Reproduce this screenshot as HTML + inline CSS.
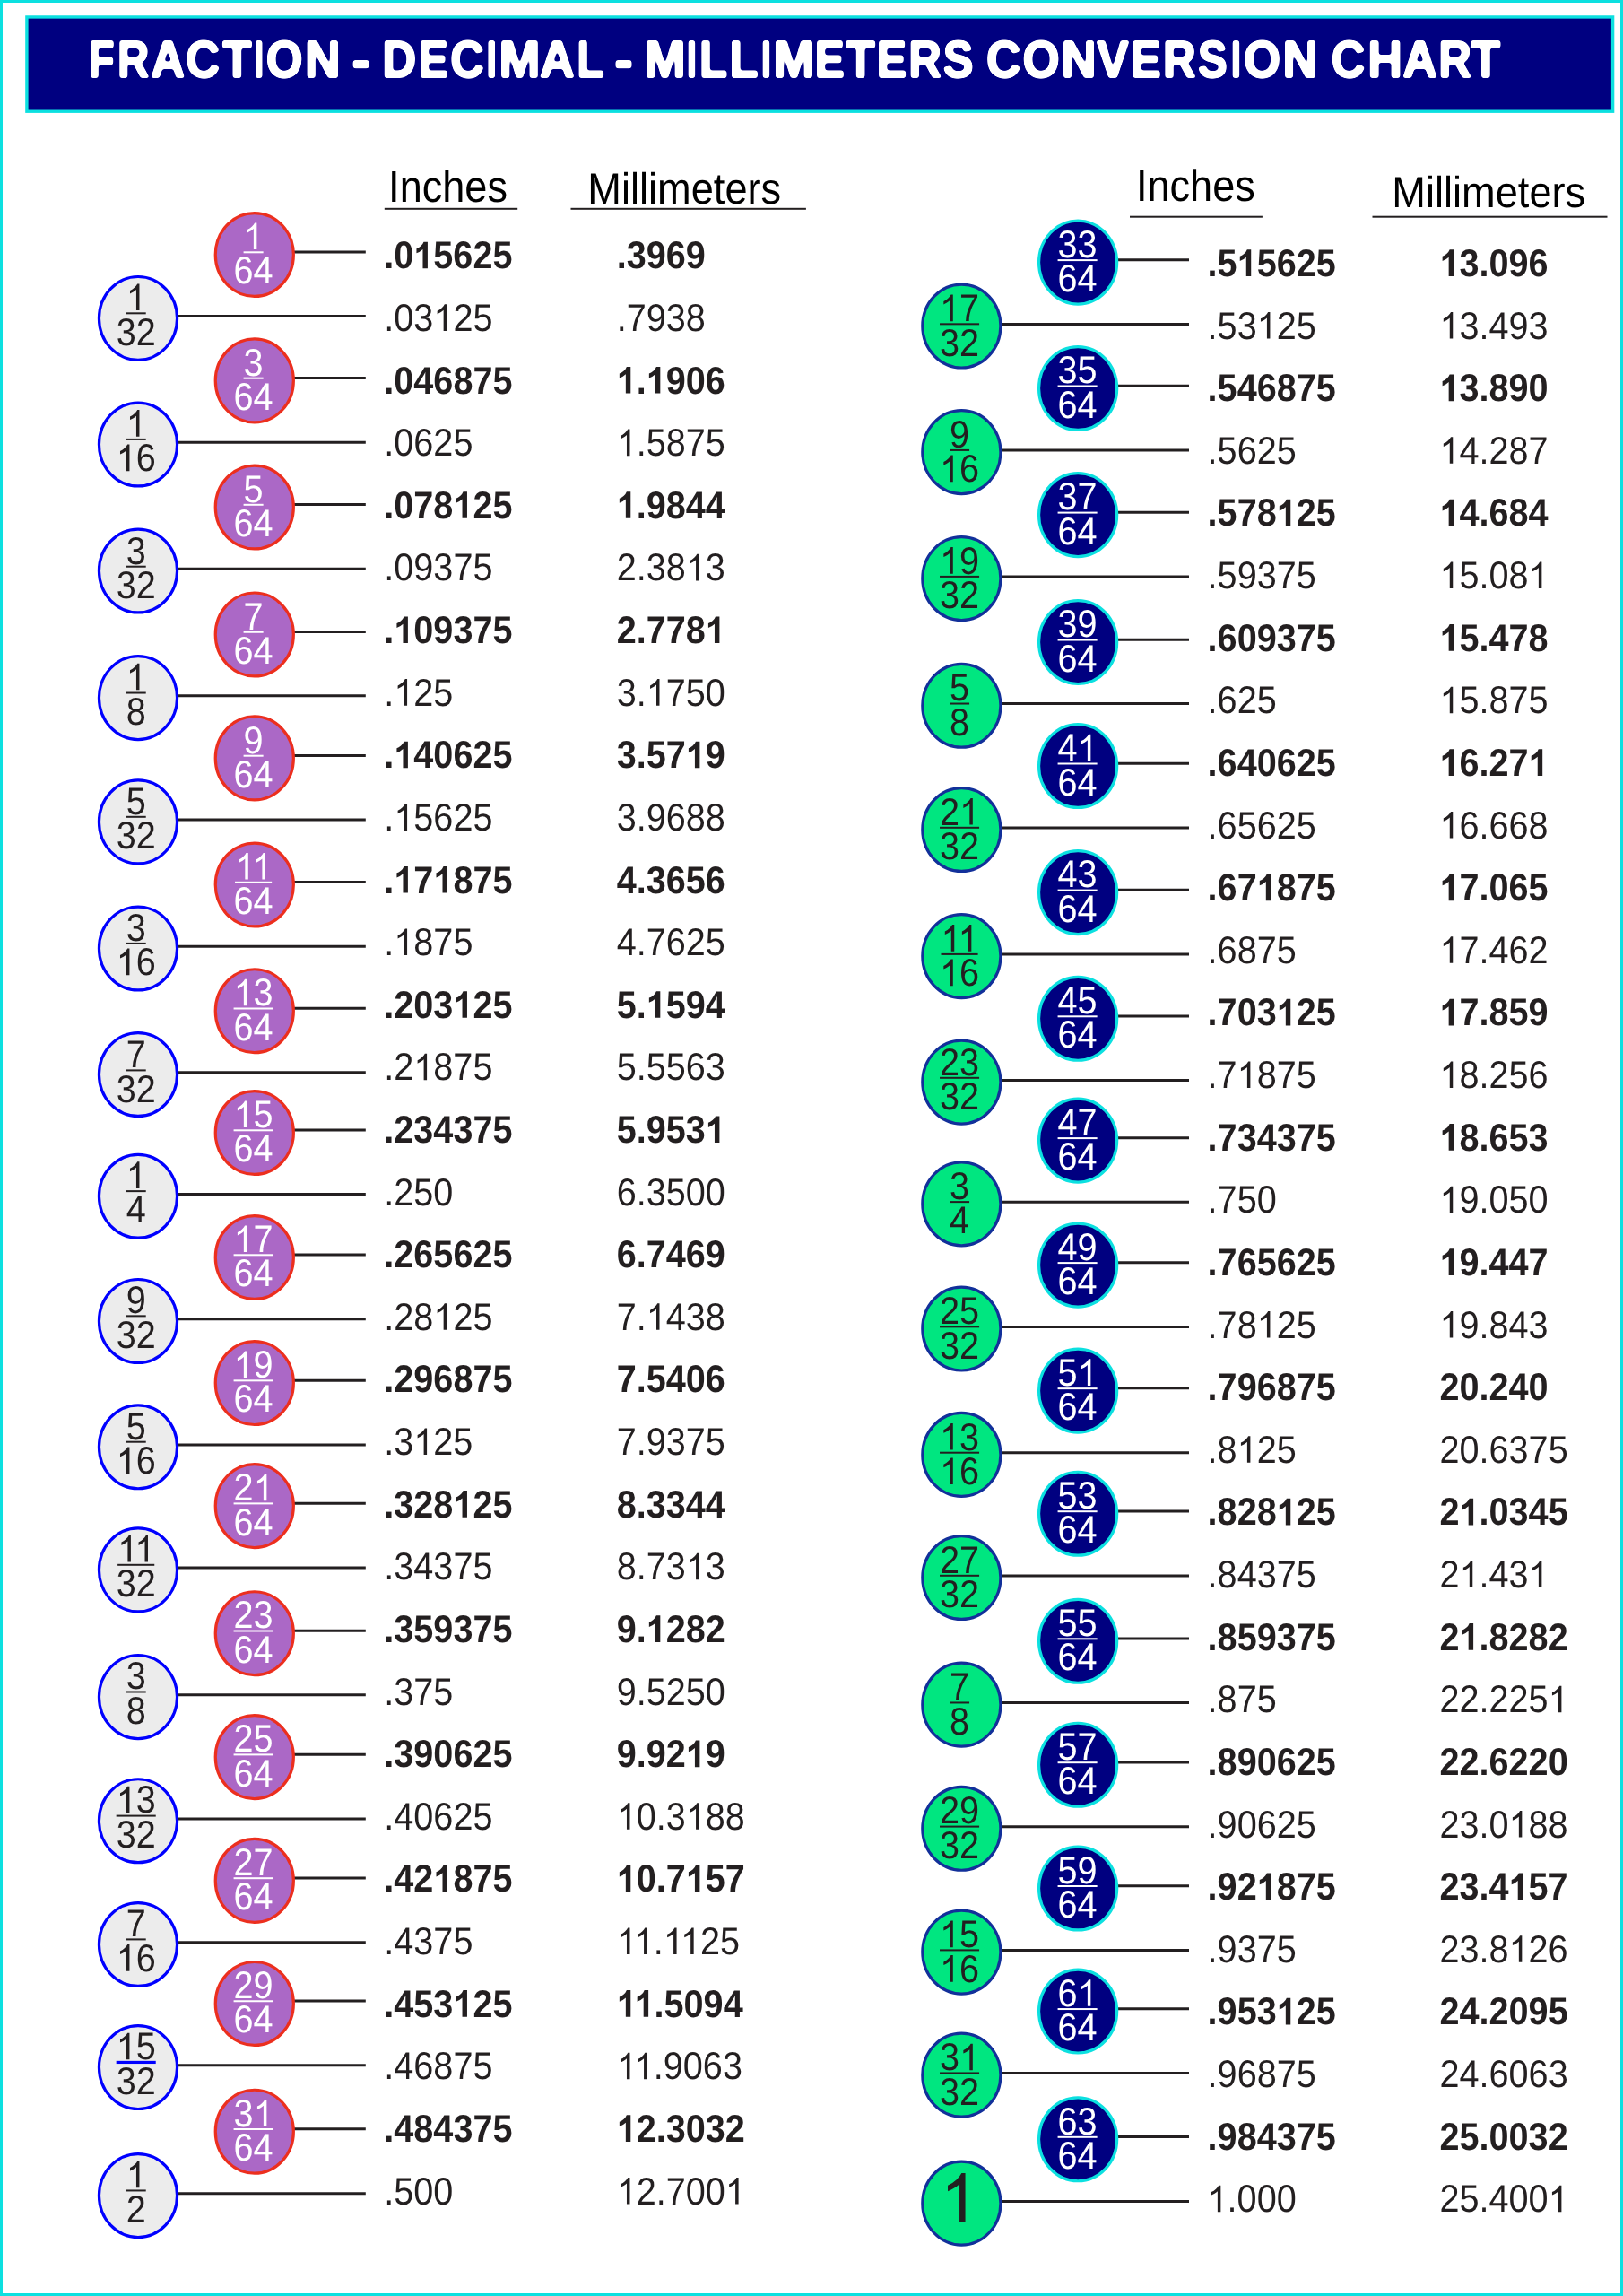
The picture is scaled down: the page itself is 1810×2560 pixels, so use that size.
<!DOCTYPE html>
<html><head><meta charset="utf-8"><title>Fraction - Decimal - Millimeters Conversion Chart</title>
<style>html,body{margin:0;padding:0;background:#fff}svg{display:block}svg{opacity:0.9999}text{font-family:"Liberation Sans",sans-serif;text-rendering:geometricPrecision}</style></head><body>
<svg width="1810" height="2560" viewBox="0 0 1810 2560">
<rect x="0" y="0" width="1810" height="2560" fill="#FFFFFF"/>
<rect x="1.5" y="1.5" width="1807" height="2557" fill="none" stroke="#0CE0E0" stroke-width="3"/>
<rect x="29.9" y="18.95" width="1768.7" height="105.25" fill="#000080" stroke="#0CE0E0" stroke-width="3.4"/>
<defs><filter id="rnd" x="0" y="0" width="1810" height="140" filterUnits="userSpaceOnUse"><feGaussianBlur stdDeviation="1.4"/><feComponentTransfer><feFuncA type="linear" slope="5" intercept="-2"/></feComponentTransfer></filter></defs>
<g filter="url(#rnd)" fill="#FFFFFF" stroke="#FFFFFF" stroke-width="2.2" stroke-linejoin="round" stroke-linecap="round" font-weight="bold" font-size="58.0">
<text transform="translate(99.07 86.0) scale(0.8054 1)" vector-effect="non-scaling-stroke">F</text>
<text transform="translate(130.92 86.0) scale(0.8447 1)" vector-effect="non-scaling-stroke">R</text>
<text transform="translate(168.19 86.0) scale(0.9046 1)" vector-effect="non-scaling-stroke">A</text>
<text transform="translate(207.25 86.0) scale(0.9045 1)" vector-effect="non-scaling-stroke">C</text>
<text transform="translate(248.21 86.0) scale(0.9106 1)" vector-effect="non-scaling-stroke">T</text>
<text transform="translate(283.06 86.0) scale(0.7062 1)" vector-effect="non-scaling-stroke">I</text>
<text transform="translate(296.75 86.0) scale(0.9057 1)" vector-effect="non-scaling-stroke">O</text>
<text transform="translate(340.02 86.0) scale(0.9473 1)" vector-effect="non-scaling-stroke">N</text>
<rect x="394.70" y="68.10" width="15.80" height="7.10"/>
<text transform="translate(426.19 86.0) scale(0.9052 1)" vector-effect="non-scaling-stroke">D</text>
<text transform="translate(466.87 86.0) scale(0.8574 1)" vector-effect="non-scaling-stroke">E</text>
<text transform="translate(502.17 86.0) scale(0.8966 1)" vector-effect="non-scaling-stroke">C</text>
<text transform="translate(542.61 86.0) scale(0.7182 1)" vector-effect="non-scaling-stroke">I</text>
<text transform="translate(556.52 86.0) scale(0.9493 1)" vector-effect="non-scaling-stroke">M</text>
<text transform="translate(601.96 86.0) scale(0.9252 1)" vector-effect="non-scaling-stroke">A</text>
<text transform="translate(643.16 86.0) scale(0.8601 1)" vector-effect="non-scaling-stroke">L</text>
<rect x="687.60" y="68.10" width="15.80" height="7.10"/>
<text transform="translate(718.46 86.0) scale(0.9518 1)" vector-effect="non-scaling-stroke">M</text>
<text transform="translate(765.86 86.0) scale(0.7062 1)" vector-effect="non-scaling-stroke">I</text>
<text transform="translate(780.00 86.0) scale(0.8769 1)" vector-effect="non-scaling-stroke">L</text>
<text transform="translate(813.59 86.0) scale(0.9038 1)" vector-effect="non-scaling-stroke">L</text>
<text transform="translate(848.86 86.0) scale(0.7062 1)" vector-effect="non-scaling-stroke">I</text>
<text transform="translate(862.18 86.0) scale(0.9592 1)" vector-effect="non-scaling-stroke">M</text>
<text transform="translate(908.69 86.0) scale(0.8543 1)" vector-effect="non-scaling-stroke">E</text>
<text transform="translate(943.41 86.0) scale(0.9106 1)" vector-effect="non-scaling-stroke">T</text>
<text transform="translate(977.65 86.0) scale(0.8636 1)" vector-effect="non-scaling-stroke">E</text>
<text transform="translate(1013.30 86.0) scale(0.8773 1)" vector-effect="non-scaling-stroke">R</text>
<text transform="translate(1051.74 86.0) scale(0.8720 1)" vector-effect="non-scaling-stroke">S</text>
<text transform="translate(1099.92 86.0) scale(0.9151 1)" vector-effect="non-scaling-stroke">C</text>
<text transform="translate(1140.53 86.0) scale(0.9132 1)" vector-effect="non-scaling-stroke">O</text>
<text transform="translate(1183.48 86.0) scale(0.9326 1)" vector-effect="non-scaling-stroke">N</text>
<text transform="translate(1223.24 86.0) scale(0.9157 1)" vector-effect="non-scaling-stroke">V</text>
<text transform="translate(1261.35 86.0) scale(0.8636 1)" vector-effect="non-scaling-stroke">E</text>
<text transform="translate(1297.00 86.0) scale(0.8773 1)" vector-effect="non-scaling-stroke">R</text>
<text transform="translate(1335.99 86.0) scale(0.8461 1)" vector-effect="non-scaling-stroke">S</text>
<text transform="translate(1372.86 86.0) scale(0.7062 1)" vector-effect="non-scaling-stroke">I</text>
<text transform="translate(1387.03 86.0) scale(0.9107 1)" vector-effect="non-scaling-stroke">O</text>
<text transform="translate(1430.57 86.0) scale(0.9355 1)" vector-effect="non-scaling-stroke">N</text>
<text transform="translate(1484.77 86.0) scale(0.8966 1)" vector-effect="non-scaling-stroke">C</text>
<text transform="translate(1525.22 86.0) scale(0.9238 1)" vector-effect="non-scaling-stroke">H</text>
<text transform="translate(1564.37 86.0) scale(0.9200 1)" vector-effect="non-scaling-stroke">A</text>
<text transform="translate(1604.20 86.0) scale(0.8773 1)" vector-effect="non-scaling-stroke">R</text>
<text transform="translate(1640.81 86.0) scale(0.9106 1)" vector-effect="non-scaling-stroke">T</text>
</g>
<text transform="translate(433.10 224.50) scale(0.913 1)" font-size="49.4" font-weight="normal" fill="#000" text-anchor="start">Inches</text>
<rect x="428.8" y="231.8" width="148.4" height="2" fill="#231F20"/>
<text transform="translate(655.30 227.10) scale(0.928 1)" font-size="48.7" font-weight="normal" fill="#000" text-anchor="start">Millimeters</text>
<rect x="636.5" y="231.8" width="262.4" height="2" fill="#231F20"/>
<text transform="translate(1266.90 224.40) scale(0.913 1)" font-size="49.4" font-weight="normal" fill="#000" text-anchor="start">Inches</text>
<rect x="1260" y="240.7" width="147.9" height="2" fill="#231F20"/>
<text transform="translate(1552.30 231.30) scale(0.928 1)" font-size="48.7" font-weight="normal" fill="#000" text-anchor="start">Millimeters</text>
<rect x="1530.5" y="240.7" width="262" height="2" fill="#231F20"/>
<line x1="326.35" y1="281.10" x2="407.80" y2="281.10" stroke="#231F20" stroke-width="3"/>
<ellipse cx="283.80" cy="284.00" rx="43.55" ry="46.45" fill="#AB68C6" stroke="#EC2F1E" stroke-width="3.2"/>
<g transform="translate(282.60 278.10) scale(0.921 1)" font-size="43.0" font-weight="normal" fill="#FFFFFF"><path d="M763 0H583V1098Q518 1038 412.5 979T223 890V1057Q374 1124 487 1221T647 1409H763Z" transform="translate(-11.96 0) scale(0.02100 -0.02100)"/></g>
<rect x="271.59" y="280.30" width="22.03" height="2.0" fill="#FFFFFF"/>
<g transform="translate(282.60 316.40) scale(0.921 1)" font-size="43.0" font-weight="normal" fill="#FFFFFF"><text x="-23.91">64</text></g>
<g transform="translate(428.30 299.30) scale(0.921 1)" font-size="43.0" font-weight="bold" fill="#231F20"><text x="0.00">.0</text><path d="M806 0H525V1013Q371 876 162 810V1054Q272 1088 401 1184T578 1409H806Z" transform="translate(35.86 0) scale(0.02100 -0.02100)"/><text x="59.78">5625</text></g>
<g transform="translate(687.70 299.30) scale(0.921 1)" font-size="43.0" font-weight="bold" fill="#231F20"><text x="0.00">.3969</text></g>
<line x1="196.55" y1="352.62" x2="407.80" y2="352.62" stroke="#231F20" stroke-width="3"/>
<ellipse cx="154.00" cy="354.93" rx="43.55" ry="46.45" fill="#ECECEC" stroke="#0000FF" stroke-width="3.2"/>
<g transform="translate(151.70 346.12) scale(0.921 1)" font-size="43.0" font-weight="normal" fill="#231F20"><path d="M763 0H583V1098Q518 1038 412.5 979T223 890V1057Q374 1124 487 1221T647 1409H763Z" transform="translate(-11.96 0) scale(0.02100 -0.02100)"/></g>
<rect x="140.69" y="348.32" width="22.03" height="2.0" fill="#231F20"/>
<g transform="translate(151.70 384.62) scale(0.921 1)" font-size="43.0" font-weight="normal" fill="#231F20"><text x="-23.91">32</text></g>
<g transform="translate(428.30 368.92) scale(0.921 1)" font-size="43.0" font-weight="normal" fill="#231F20"><text x="0.00">.03</text><path d="M763 0H583V1098Q518 1038 412.5 979T223 890V1057Q374 1124 487 1221T647 1409H763Z" transform="translate(59.78 0) scale(0.02100 -0.02100)"/><text x="83.69">25</text></g>
<g transform="translate(687.70 368.92) scale(0.921 1)" font-size="43.0" font-weight="normal" fill="#231F20"><text x="0.00">.7938</text></g>
<line x1="326.35" y1="421.50" x2="407.80" y2="421.50" stroke="#231F20" stroke-width="3"/>
<ellipse cx="283.80" cy="424.40" rx="43.55" ry="46.45" fill="#AB68C6" stroke="#EC2F1E" stroke-width="3.2"/>
<g transform="translate(282.60 418.50) scale(0.921 1)" font-size="43.0" font-weight="normal" fill="#FFFFFF"><text x="-11.96">3</text></g>
<rect x="271.59" y="420.70" width="22.03" height="2.0" fill="#FFFFFF"/>
<g transform="translate(282.60 456.80) scale(0.921 1)" font-size="43.0" font-weight="normal" fill="#FFFFFF"><text x="-23.91">64</text></g>
<g transform="translate(428.30 438.54) scale(0.921 1)" font-size="43.0" font-weight="bold" fill="#231F20"><text x="0.00">.046875</text></g>
<g transform="translate(687.70 438.54) scale(0.921 1)" font-size="43.0" font-weight="bold" fill="#231F20"><path d="M806 0H525V1013Q371 876 162 810V1054Q272 1088 401 1184T578 1409H806Z" transform="translate(0.00 0) scale(0.02100 -0.02100)"/><text x="23.91">.</text><path d="M806 0H525V1013Q371 876 162 810V1054Q272 1088 401 1184T578 1409H806Z" transform="translate(35.86 0) scale(0.02100 -0.02100)"/><text x="59.78">906</text></g>
<line x1="196.55" y1="493.20" x2="407.80" y2="493.20" stroke="#231F20" stroke-width="3"/>
<ellipse cx="154.00" cy="495.50" rx="43.55" ry="46.45" fill="#ECECEC" stroke="#0000FF" stroke-width="3.2"/>
<g transform="translate(151.70 486.70) scale(0.921 1)" font-size="43.0" font-weight="normal" fill="#231F20"><path d="M763 0H583V1098Q518 1038 412.5 979T223 890V1057Q374 1124 487 1221T647 1409H763Z" transform="translate(-11.96 0) scale(0.02100 -0.02100)"/></g>
<rect x="140.69" y="488.90" width="22.03" height="2.0" fill="#231F20"/>
<g transform="translate(151.70 525.20) scale(0.921 1)" font-size="43.0" font-weight="normal" fill="#231F20"><path d="M763 0H583V1098Q518 1038 412.5 979T223 890V1057Q374 1124 487 1221T647 1409H763Z" transform="translate(-23.91 0) scale(0.02100 -0.02100)"/><text x="0.00">6</text></g>
<g transform="translate(428.30 508.16) scale(0.921 1)" font-size="43.0" font-weight="normal" fill="#231F20"><text x="0.00">.0625</text></g>
<g transform="translate(687.70 508.16) scale(0.921 1)" font-size="43.0" font-weight="normal" fill="#231F20"><path d="M763 0H583V1098Q518 1038 412.5 979T223 890V1057Q374 1124 487 1221T647 1409H763Z" transform="translate(0.00 0) scale(0.02100 -0.02100)"/><text x="23.91">.5875</text></g>
<line x1="326.35" y1="562.60" x2="407.80" y2="562.60" stroke="#231F20" stroke-width="3"/>
<ellipse cx="283.80" cy="565.50" rx="43.55" ry="46.45" fill="#AB68C6" stroke="#EC2F1E" stroke-width="3.2"/>
<g transform="translate(282.60 559.60) scale(0.921 1)" font-size="43.0" font-weight="normal" fill="#FFFFFF"><text x="-11.96">5</text></g>
<rect x="271.59" y="561.80" width="22.03" height="2.0" fill="#FFFFFF"/>
<g transform="translate(282.60 597.90) scale(0.921 1)" font-size="43.0" font-weight="normal" fill="#FFFFFF"><text x="-23.91">64</text></g>
<g transform="translate(428.30 577.78) scale(0.921 1)" font-size="43.0" font-weight="bold" fill="#231F20"><text x="0.00">.078</text><path d="M806 0H525V1013Q371 876 162 810V1054Q272 1088 401 1184T578 1409H806Z" transform="translate(83.69 0) scale(0.02100 -0.02100)"/><text x="107.60">25</text></g>
<g transform="translate(687.70 577.78) scale(0.921 1)" font-size="43.0" font-weight="bold" fill="#231F20"><path d="M806 0H525V1013Q371 876 162 810V1054Q272 1088 401 1184T578 1409H806Z" transform="translate(0.00 0) scale(0.02100 -0.02100)"/><text x="23.91">.9844</text></g>
<line x1="196.55" y1="634.20" x2="407.80" y2="634.20" stroke="#231F20" stroke-width="3"/>
<ellipse cx="154.00" cy="636.50" rx="43.55" ry="46.45" fill="#ECECEC" stroke="#0000FF" stroke-width="3.2"/>
<g transform="translate(151.70 628.50) scale(0.921 1)" font-size="43.0" font-weight="normal" fill="#231F20"><text x="-11.96">3</text></g>
<rect x="140.69" y="630.70" width="22.03" height="2.0" fill="#231F20"/>
<g transform="translate(151.70 667.00) scale(0.921 1)" font-size="43.0" font-weight="normal" fill="#231F20"><text x="-23.91">32</text></g>
<g transform="translate(428.30 647.40) scale(0.921 1)" font-size="43.0" font-weight="normal" fill="#231F20"><text x="0.00">.09375</text></g>
<g transform="translate(687.70 647.40) scale(0.921 1)" font-size="43.0" font-weight="normal" fill="#231F20"><text x="0.00">2.38</text><path d="M763 0H583V1098Q518 1038 412.5 979T223 890V1057Q374 1124 487 1221T647 1409H763Z" transform="translate(83.69 0) scale(0.02100 -0.02100)"/><text x="107.60">3</text></g>
<line x1="326.35" y1="704.55" x2="407.80" y2="704.55" stroke="#231F20" stroke-width="3"/>
<ellipse cx="283.80" cy="707.45" rx="43.55" ry="46.45" fill="#AB68C6" stroke="#EC2F1E" stroke-width="3.2"/>
<g transform="translate(282.60 701.55) scale(0.921 1)" font-size="43.0" font-weight="normal" fill="#FFFFFF"><text x="-11.96">7</text></g>
<rect x="271.59" y="703.75" width="22.03" height="2.0" fill="#FFFFFF"/>
<g transform="translate(282.60 739.85) scale(0.921 1)" font-size="43.0" font-weight="normal" fill="#FFFFFF"><text x="-23.91">64</text></g>
<g transform="translate(428.30 717.02) scale(0.921 1)" font-size="43.0" font-weight="bold" fill="#231F20"><text x="0.00">.</text><path d="M806 0H525V1013Q371 876 162 810V1054Q272 1088 401 1184T578 1409H806Z" transform="translate(11.95 0) scale(0.02100 -0.02100)"/><text x="35.86">09375</text></g>
<g transform="translate(687.70 717.02) scale(0.921 1)" font-size="43.0" font-weight="bold" fill="#231F20"><text x="0.00">2.778</text><path d="M806 0H525V1013Q371 876 162 810V1054Q272 1088 401 1184T578 1409H806Z" transform="translate(107.60 0) scale(0.02100 -0.02100)"/></g>
<line x1="196.55" y1="775.83" x2="407.80" y2="775.83" stroke="#231F20" stroke-width="3"/>
<ellipse cx="154.00" cy="778.12" rx="43.55" ry="46.45" fill="#ECECEC" stroke="#0000FF" stroke-width="3.2"/>
<g transform="translate(151.70 769.33) scale(0.921 1)" font-size="43.0" font-weight="normal" fill="#231F20"><path d="M763 0H583V1098Q518 1038 412.5 979T223 890V1057Q374 1124 487 1221T647 1409H763Z" transform="translate(-11.96 0) scale(0.02100 -0.02100)"/></g>
<rect x="140.69" y="771.53" width="22.03" height="2.0" fill="#231F20"/>
<g transform="translate(151.70 807.83) scale(0.921 1)" font-size="43.0" font-weight="normal" fill="#231F20"><text x="-11.96">8</text></g>
<g transform="translate(428.30 786.64) scale(0.921 1)" font-size="43.0" font-weight="normal" fill="#231F20"><text x="0.00">.</text><path d="M763 0H583V1098Q518 1038 412.5 979T223 890V1057Q374 1124 487 1221T647 1409H763Z" transform="translate(11.95 0) scale(0.02100 -0.02100)"/><text x="35.86">25</text></g>
<g transform="translate(687.70 786.64) scale(0.921 1)" font-size="43.0" font-weight="normal" fill="#231F20"><text x="0.00">3.</text><path d="M763 0H583V1098Q518 1038 412.5 979T223 890V1057Q374 1124 487 1221T647 1409H763Z" transform="translate(35.86 0) scale(0.02100 -0.02100)"/><text x="59.78">750</text></g>
<line x1="326.35" y1="842.50" x2="407.80" y2="842.50" stroke="#231F20" stroke-width="3"/>
<ellipse cx="283.80" cy="845.40" rx="43.55" ry="46.45" fill="#AB68C6" stroke="#EC2F1E" stroke-width="3.2"/>
<g transform="translate(282.60 839.50) scale(0.921 1)" font-size="43.0" font-weight="normal" fill="#FFFFFF"><text x="-11.96">9</text></g>
<rect x="271.59" y="841.70" width="22.03" height="2.0" fill="#FFFFFF"/>
<g transform="translate(282.60 877.80) scale(0.921 1)" font-size="43.0" font-weight="normal" fill="#FFFFFF"><text x="-23.91">64</text></g>
<g transform="translate(428.30 856.26) scale(0.921 1)" font-size="43.0" font-weight="bold" fill="#231F20"><text x="0.00">.</text><path d="M806 0H525V1013Q371 876 162 810V1054Q272 1088 401 1184T578 1409H806Z" transform="translate(11.95 0) scale(0.02100 -0.02100)"/><text x="35.86">40625</text></g>
<g transform="translate(687.70 856.26) scale(0.921 1)" font-size="43.0" font-weight="bold" fill="#231F20"><text x="0.00">3.57</text><path d="M806 0H525V1013Q371 876 162 810V1054Q272 1088 401 1184T578 1409H806Z" transform="translate(83.69 0) scale(0.02100 -0.02100)"/><text x="107.60">9</text></g>
<line x1="196.55" y1="914.10" x2="407.80" y2="914.10" stroke="#231F20" stroke-width="3"/>
<ellipse cx="154.00" cy="916.40" rx="43.55" ry="46.45" fill="#ECECEC" stroke="#0000FF" stroke-width="3.2"/>
<g transform="translate(151.70 907.60) scale(0.921 1)" font-size="43.0" font-weight="normal" fill="#231F20"><text x="-11.96">5</text></g>
<rect x="140.69" y="909.80" width="22.03" height="2.0" fill="#231F20"/>
<g transform="translate(151.70 946.10) scale(0.921 1)" font-size="43.0" font-weight="normal" fill="#231F20"><text x="-23.91">32</text></g>
<g transform="translate(428.30 925.88) scale(0.921 1)" font-size="43.0" font-weight="normal" fill="#231F20"><text x="0.00">.</text><path d="M763 0H583V1098Q518 1038 412.5 979T223 890V1057Q374 1124 487 1221T647 1409H763Z" transform="translate(11.95 0) scale(0.02100 -0.02100)"/><text x="35.86">5625</text></g>
<g transform="translate(687.70 925.88) scale(0.921 1)" font-size="43.0" font-weight="normal" fill="#231F20"><text x="0.00">3.9688</text></g>
<line x1="326.35" y1="983.60" x2="407.80" y2="983.60" stroke="#231F20" stroke-width="3"/>
<ellipse cx="283.80" cy="986.50" rx="43.55" ry="46.45" fill="#AB68C6" stroke="#EC2F1E" stroke-width="3.2"/>
<g transform="translate(282.60 980.60) scale(0.921 1)" font-size="43.0" font-weight="normal" fill="#FFFFFF"><path d="M763 0H583V1098Q518 1038 412.5 979T223 890V1057Q374 1124 487 1221T647 1409H763Z" transform="translate(-22.32 0) scale(0.02100 -0.02100)"/><path d="M763 0H583V1098Q518 1038 412.5 979T223 890V1057Q374 1124 487 1221T647 1409H763Z" transform="translate(-1.60 0) scale(0.02100 -0.02100)"/></g>
<rect x="262.04" y="982.80" width="41.11" height="2.0" fill="#FFFFFF"/>
<g transform="translate(282.60 1018.90) scale(0.921 1)" font-size="43.0" font-weight="normal" fill="#FFFFFF"><text x="-23.91">64</text></g>
<g transform="translate(428.30 995.50) scale(0.921 1)" font-size="43.0" font-weight="bold" fill="#231F20"><text x="0.00">.</text><path d="M806 0H525V1013Q371 876 162 810V1054Q272 1088 401 1184T578 1409H806Z" transform="translate(11.95 0) scale(0.02100 -0.02100)"/><text x="35.86">7</text><path d="M806 0H525V1013Q371 876 162 810V1054Q272 1088 401 1184T578 1409H806Z" transform="translate(59.78 0) scale(0.02100 -0.02100)"/><text x="83.69">875</text></g>
<g transform="translate(687.70 995.50) scale(0.921 1)" font-size="43.0" font-weight="bold" fill="#231F20"><text x="0.00">4.3656</text></g>
<line x1="196.55" y1="1055.20" x2="407.80" y2="1055.20" stroke="#231F20" stroke-width="3"/>
<ellipse cx="154.00" cy="1057.50" rx="43.55" ry="46.45" fill="#ECECEC" stroke="#0000FF" stroke-width="3.2"/>
<g transform="translate(151.70 1048.70) scale(0.921 1)" font-size="43.0" font-weight="normal" fill="#231F20"><text x="-11.96">3</text></g>
<rect x="140.69" y="1050.90" width="22.03" height="2.0" fill="#231F20"/>
<g transform="translate(151.70 1087.20) scale(0.921 1)" font-size="43.0" font-weight="normal" fill="#231F20"><path d="M763 0H583V1098Q518 1038 412.5 979T223 890V1057Q374 1124 487 1221T647 1409H763Z" transform="translate(-23.91 0) scale(0.02100 -0.02100)"/><text x="0.00">6</text></g>
<g transform="translate(428.30 1065.12) scale(0.921 1)" font-size="43.0" font-weight="normal" fill="#231F20"><text x="0.00">.</text><path d="M763 0H583V1098Q518 1038 412.5 979T223 890V1057Q374 1124 487 1221T647 1409H763Z" transform="translate(11.95 0) scale(0.02100 -0.02100)"/><text x="35.86">875</text></g>
<g transform="translate(687.70 1065.12) scale(0.921 1)" font-size="43.0" font-weight="normal" fill="#231F20"><text x="0.00">4.7625</text></g>
<line x1="326.35" y1="1124.30" x2="407.80" y2="1124.30" stroke="#231F20" stroke-width="3"/>
<ellipse cx="283.80" cy="1127.20" rx="43.55" ry="46.45" fill="#AB68C6" stroke="#EC2F1E" stroke-width="3.2"/>
<g transform="translate(282.60 1121.30) scale(0.921 1)" font-size="43.0" font-weight="normal" fill="#FFFFFF"><path d="M763 0H583V1098Q518 1038 412.5 979T223 890V1057Q374 1124 487 1221T647 1409H763Z" transform="translate(-23.91 0) scale(0.02100 -0.02100)"/><text x="0.00">3</text></g>
<rect x="260.57" y="1123.50" width="44.05" height="2.0" fill="#FFFFFF"/>
<g transform="translate(282.60 1159.60) scale(0.921 1)" font-size="43.0" font-weight="normal" fill="#FFFFFF"><text x="-23.91">64</text></g>
<g transform="translate(428.30 1134.74) scale(0.921 1)" font-size="43.0" font-weight="bold" fill="#231F20"><text x="0.00">.203</text><path d="M806 0H525V1013Q371 876 162 810V1054Q272 1088 401 1184T578 1409H806Z" transform="translate(83.69 0) scale(0.02100 -0.02100)"/><text x="107.60">25</text></g>
<g transform="translate(687.70 1134.74) scale(0.921 1)" font-size="43.0" font-weight="bold" fill="#231F20"><text x="0.00">5.</text><path d="M806 0H525V1013Q371 876 162 810V1054Q272 1088 401 1184T578 1409H806Z" transform="translate(35.86 0) scale(0.02100 -0.02100)"/><text x="59.78">594</text></g>
<line x1="196.55" y1="1195.70" x2="407.80" y2="1195.70" stroke="#231F20" stroke-width="3"/>
<ellipse cx="154.00" cy="1198.00" rx="43.55" ry="46.45" fill="#ECECEC" stroke="#0000FF" stroke-width="3.2"/>
<g transform="translate(151.70 1190.20) scale(0.921 1)" font-size="43.0" font-weight="normal" fill="#231F20"><text x="-11.96">7</text></g>
<rect x="140.69" y="1192.40" width="22.03" height="2.0" fill="#231F20"/>
<g transform="translate(151.70 1228.70) scale(0.921 1)" font-size="43.0" font-weight="normal" fill="#231F20"><text x="-23.91">32</text></g>
<g transform="translate(428.30 1204.36) scale(0.921 1)" font-size="43.0" font-weight="normal" fill="#231F20"><text x="0.00">.2</text><path d="M763 0H583V1098Q518 1038 412.5 979T223 890V1057Q374 1124 487 1221T647 1409H763Z" transform="translate(35.86 0) scale(0.02100 -0.02100)"/><text x="59.78">875</text></g>
<g transform="translate(687.70 1204.36) scale(0.921 1)" font-size="43.0" font-weight="normal" fill="#231F20"><text x="0.00">5.5563</text></g>
<line x1="326.35" y1="1260.10" x2="407.80" y2="1260.10" stroke="#231F20" stroke-width="3"/>
<ellipse cx="283.80" cy="1263.00" rx="43.55" ry="46.45" fill="#AB68C6" stroke="#EC2F1E" stroke-width="3.2"/>
<g transform="translate(282.60 1257.10) scale(0.921 1)" font-size="43.0" font-weight="normal" fill="#FFFFFF"><path d="M763 0H583V1098Q518 1038 412.5 979T223 890V1057Q374 1124 487 1221T647 1409H763Z" transform="translate(-23.91 0) scale(0.02100 -0.02100)"/><text x="0.00">5</text></g>
<rect x="260.57" y="1259.30" width="44.05" height="2.0" fill="#FFFFFF"/>
<g transform="translate(282.60 1295.40) scale(0.921 1)" font-size="43.0" font-weight="normal" fill="#FFFFFF"><text x="-23.91">64</text></g>
<g transform="translate(428.30 1273.98) scale(0.921 1)" font-size="43.0" font-weight="bold" fill="#231F20"><text x="0.00">.234375</text></g>
<g transform="translate(687.70 1273.98) scale(0.921 1)" font-size="43.0" font-weight="bold" fill="#231F20"><text x="0.00">5.953</text><path d="M806 0H525V1013Q371 876 162 810V1054Q272 1088 401 1184T578 1409H806Z" transform="translate(107.60 0) scale(0.02100 -0.02100)"/></g>
<line x1="196.55" y1="1331.43" x2="407.80" y2="1331.43" stroke="#231F20" stroke-width="3"/>
<ellipse cx="154.00" cy="1333.73" rx="43.55" ry="46.45" fill="#ECECEC" stroke="#0000FF" stroke-width="3.2"/>
<g transform="translate(151.70 1324.93) scale(0.921 1)" font-size="43.0" font-weight="normal" fill="#231F20"><path d="M763 0H583V1098Q518 1038 412.5 979T223 890V1057Q374 1124 487 1221T647 1409H763Z" transform="translate(-11.96 0) scale(0.02100 -0.02100)"/></g>
<rect x="140.69" y="1327.13" width="22.03" height="2.0" fill="#231F20"/>
<g transform="translate(151.70 1363.43) scale(0.921 1)" font-size="43.0" font-weight="normal" fill="#231F20"><text x="-11.96">4</text></g>
<g transform="translate(428.30 1343.60) scale(0.921 1)" font-size="43.0" font-weight="normal" fill="#231F20"><text x="0.00">.250</text></g>
<g transform="translate(687.70 1343.60) scale(0.921 1)" font-size="43.0" font-weight="normal" fill="#231F20"><text x="0.00">6.3500</text></g>
<line x1="326.35" y1="1399.10" x2="407.80" y2="1399.10" stroke="#231F20" stroke-width="3"/>
<ellipse cx="283.80" cy="1402.00" rx="43.55" ry="46.45" fill="#AB68C6" stroke="#EC2F1E" stroke-width="3.2"/>
<g transform="translate(282.60 1396.10) scale(0.921 1)" font-size="43.0" font-weight="normal" fill="#FFFFFF"><path d="M763 0H583V1098Q518 1038 412.5 979T223 890V1057Q374 1124 487 1221T647 1409H763Z" transform="translate(-23.91 0) scale(0.02100 -0.02100)"/><text x="0.00">7</text></g>
<rect x="260.57" y="1398.30" width="44.05" height="2.0" fill="#FFFFFF"/>
<g transform="translate(282.60 1434.40) scale(0.921 1)" font-size="43.0" font-weight="normal" fill="#FFFFFF"><text x="-23.91">64</text></g>
<g transform="translate(428.30 1413.22) scale(0.921 1)" font-size="43.0" font-weight="bold" fill="#231F20"><text x="0.00">.265625</text></g>
<g transform="translate(687.70 1413.22) scale(0.921 1)" font-size="43.0" font-weight="bold" fill="#231F20"><text x="0.00">6.7469</text></g>
<line x1="196.55" y1="1470.65" x2="407.80" y2="1470.65" stroke="#231F20" stroke-width="3"/>
<ellipse cx="154.00" cy="1472.95" rx="43.55" ry="46.45" fill="#ECECEC" stroke="#0000FF" stroke-width="3.2"/>
<g transform="translate(151.70 1464.15) scale(0.921 1)" font-size="43.0" font-weight="normal" fill="#231F20"><text x="-11.96">9</text></g>
<rect x="140.69" y="1466.35" width="22.03" height="2.0" fill="#231F20"/>
<g transform="translate(151.70 1502.65) scale(0.921 1)" font-size="43.0" font-weight="normal" fill="#231F20"><text x="-23.91">32</text></g>
<g transform="translate(428.30 1482.84) scale(0.921 1)" font-size="43.0" font-weight="normal" fill="#231F20"><text x="0.00">.28</text><path d="M763 0H583V1098Q518 1038 412.5 979T223 890V1057Q374 1124 487 1221T647 1409H763Z" transform="translate(59.78 0) scale(0.02100 -0.02100)"/><text x="83.69">25</text></g>
<g transform="translate(687.70 1482.84) scale(0.921 1)" font-size="43.0" font-weight="normal" fill="#231F20"><text x="0.00">7.</text><path d="M763 0H583V1098Q518 1038 412.5 979T223 890V1057Q374 1124 487 1221T647 1409H763Z" transform="translate(35.86 0) scale(0.02100 -0.02100)"/><text x="59.78">438</text></g>
<line x1="326.35" y1="1539.15" x2="407.80" y2="1539.15" stroke="#231F20" stroke-width="3"/>
<ellipse cx="283.80" cy="1542.05" rx="43.55" ry="46.45" fill="#AB68C6" stroke="#EC2F1E" stroke-width="3.2"/>
<g transform="translate(282.60 1536.15) scale(0.921 1)" font-size="43.0" font-weight="normal" fill="#FFFFFF"><path d="M763 0H583V1098Q518 1038 412.5 979T223 890V1057Q374 1124 487 1221T647 1409H763Z" transform="translate(-23.91 0) scale(0.02100 -0.02100)"/><text x="0.00">9</text></g>
<rect x="260.57" y="1538.35" width="44.05" height="2.0" fill="#FFFFFF"/>
<g transform="translate(282.60 1574.45) scale(0.921 1)" font-size="43.0" font-weight="normal" fill="#FFFFFF"><text x="-23.91">64</text></g>
<g transform="translate(428.30 1552.46) scale(0.921 1)" font-size="43.0" font-weight="bold" fill="#231F20"><text x="0.00">.296875</text></g>
<g transform="translate(687.70 1552.46) scale(0.921 1)" font-size="43.0" font-weight="bold" fill="#231F20"><text x="0.00">7.5406</text></g>
<line x1="196.55" y1="1611.00" x2="407.80" y2="1611.00" stroke="#231F20" stroke-width="3"/>
<ellipse cx="154.00" cy="1613.30" rx="43.55" ry="46.45" fill="#ECECEC" stroke="#0000FF" stroke-width="3.2"/>
<g transform="translate(151.70 1604.50) scale(0.921 1)" font-size="43.0" font-weight="normal" fill="#231F20"><text x="-11.96">5</text></g>
<rect x="140.69" y="1606.70" width="22.03" height="2.0" fill="#231F20"/>
<g transform="translate(151.70 1643.00) scale(0.921 1)" font-size="43.0" font-weight="normal" fill="#231F20"><path d="M763 0H583V1098Q518 1038 412.5 979T223 890V1057Q374 1124 487 1221T647 1409H763Z" transform="translate(-23.91 0) scale(0.02100 -0.02100)"/><text x="0.00">6</text></g>
<g transform="translate(428.30 1622.08) scale(0.921 1)" font-size="43.0" font-weight="normal" fill="#231F20"><text x="0.00">.3</text><path d="M763 0H583V1098Q518 1038 412.5 979T223 890V1057Q374 1124 487 1221T647 1409H763Z" transform="translate(35.86 0) scale(0.02100 -0.02100)"/><text x="59.78">25</text></g>
<g transform="translate(687.70 1622.08) scale(0.921 1)" font-size="43.0" font-weight="normal" fill="#231F20"><text x="0.00">7.9375</text></g>
<line x1="326.35" y1="1676.20" x2="407.80" y2="1676.20" stroke="#231F20" stroke-width="3"/>
<ellipse cx="283.80" cy="1679.10" rx="43.55" ry="46.45" fill="#AB68C6" stroke="#EC2F1E" stroke-width="3.2"/>
<g transform="translate(282.60 1673.20) scale(0.921 1)" font-size="43.0" font-weight="normal" fill="#FFFFFF"><text x="-23.91">2</text><path d="M763 0H583V1098Q518 1038 412.5 979T223 890V1057Q374 1124 487 1221T647 1409H763Z" transform="translate(0.00 0) scale(0.02100 -0.02100)"/></g>
<rect x="260.57" y="1675.40" width="44.05" height="2.0" fill="#FFFFFF"/>
<g transform="translate(282.60 1711.50) scale(0.921 1)" font-size="43.0" font-weight="normal" fill="#FFFFFF"><text x="-23.91">64</text></g>
<g transform="translate(428.30 1691.70) scale(0.921 1)" font-size="43.0" font-weight="bold" fill="#231F20"><text x="0.00">.328</text><path d="M806 0H525V1013Q371 876 162 810V1054Q272 1088 401 1184T578 1409H806Z" transform="translate(83.69 0) scale(0.02100 -0.02100)"/><text x="107.60">25</text></g>
<g transform="translate(687.70 1691.70) scale(0.921 1)" font-size="43.0" font-weight="bold" fill="#231F20"><text x="0.00">8.3344</text></g>
<line x1="196.55" y1="1748.10" x2="407.80" y2="1748.10" stroke="#231F20" stroke-width="3"/>
<ellipse cx="154.00" cy="1750.40" rx="43.55" ry="46.45" fill="#ECECEC" stroke="#0000FF" stroke-width="3.2"/>
<g transform="translate(151.70 1741.60) scale(0.921 1)" font-size="43.0" font-weight="normal" fill="#231F20"><path d="M763 0H583V1098Q518 1038 412.5 979T223 890V1057Q374 1124 487 1221T647 1409H763Z" transform="translate(-22.32 0) scale(0.02100 -0.02100)"/><path d="M763 0H583V1098Q518 1038 412.5 979T223 890V1057Q374 1124 487 1221T647 1409H763Z" transform="translate(-1.60 0) scale(0.02100 -0.02100)"/></g>
<rect x="131.14" y="1743.80" width="41.11" height="2.0" fill="#231F20"/>
<g transform="translate(151.70 1780.10) scale(0.921 1)" font-size="43.0" font-weight="normal" fill="#231F20"><text x="-23.91">32</text></g>
<g transform="translate(428.30 1761.32) scale(0.921 1)" font-size="43.0" font-weight="normal" fill="#231F20"><text x="0.00">.34375</text></g>
<g transform="translate(687.70 1761.32) scale(0.921 1)" font-size="43.0" font-weight="normal" fill="#231F20"><text x="0.00">8.73</text><path d="M763 0H583V1098Q518 1038 412.5 979T223 890V1057Q374 1124 487 1221T647 1409H763Z" transform="translate(83.69 0) scale(0.02100 -0.02100)"/><text x="107.60">3</text></g>
<line x1="326.35" y1="1818.30" x2="407.80" y2="1818.30" stroke="#231F20" stroke-width="3"/>
<ellipse cx="283.80" cy="1821.20" rx="43.55" ry="46.45" fill="#AB68C6" stroke="#EC2F1E" stroke-width="3.2"/>
<g transform="translate(282.60 1815.30) scale(0.921 1)" font-size="43.0" font-weight="normal" fill="#FFFFFF"><text x="-23.91">23</text></g>
<rect x="260.57" y="1817.50" width="44.05" height="2.0" fill="#FFFFFF"/>
<g transform="translate(282.60 1853.60) scale(0.921 1)" font-size="43.0" font-weight="normal" fill="#FFFFFF"><text x="-23.91">64</text></g>
<g transform="translate(428.30 1830.94) scale(0.921 1)" font-size="43.0" font-weight="bold" fill="#231F20"><text x="0.00">.359375</text></g>
<g transform="translate(687.70 1830.94) scale(0.921 1)" font-size="43.0" font-weight="bold" fill="#231F20"><text x="0.00">9.</text><path d="M806 0H525V1013Q371 876 162 810V1054Q272 1088 401 1184T578 1409H806Z" transform="translate(35.86 0) scale(0.02100 -0.02100)"/><text x="59.78">282</text></g>
<line x1="196.55" y1="1889.78" x2="407.80" y2="1889.78" stroke="#231F20" stroke-width="3"/>
<ellipse cx="154.00" cy="1892.08" rx="43.55" ry="46.45" fill="#ECECEC" stroke="#0000FF" stroke-width="3.2"/>
<g transform="translate(151.70 1883.28) scale(0.921 1)" font-size="43.0" font-weight="normal" fill="#231F20"><text x="-11.96">3</text></g>
<rect x="140.69" y="1885.48" width="22.03" height="2.0" fill="#231F20"/>
<g transform="translate(151.70 1921.78) scale(0.921 1)" font-size="43.0" font-weight="normal" fill="#231F20"><text x="-11.96">8</text></g>
<g transform="translate(428.30 1900.56) scale(0.921 1)" font-size="43.0" font-weight="normal" fill="#231F20"><text x="0.00">.375</text></g>
<g transform="translate(687.70 1900.56) scale(0.921 1)" font-size="43.0" font-weight="normal" fill="#231F20"><text x="0.00">9.5250</text></g>
<line x1="326.35" y1="1956.20" x2="407.80" y2="1956.20" stroke="#231F20" stroke-width="3"/>
<ellipse cx="283.80" cy="1959.10" rx="43.55" ry="46.45" fill="#AB68C6" stroke="#EC2F1E" stroke-width="3.2"/>
<g transform="translate(282.60 1953.20) scale(0.921 1)" font-size="43.0" font-weight="normal" fill="#FFFFFF"><text x="-23.91">25</text></g>
<rect x="260.57" y="1955.40" width="44.05" height="2.0" fill="#FFFFFF"/>
<g transform="translate(282.60 1991.50) scale(0.921 1)" font-size="43.0" font-weight="normal" fill="#FFFFFF"><text x="-23.91">64</text></g>
<g transform="translate(428.30 1970.18) scale(0.921 1)" font-size="43.0" font-weight="bold" fill="#231F20"><text x="0.00">.390625</text></g>
<g transform="translate(687.70 1970.18) scale(0.921 1)" font-size="43.0" font-weight="bold" fill="#231F20"><text x="0.00">9.92</text><path d="M806 0H525V1013Q371 876 162 810V1054Q272 1088 401 1184T578 1409H806Z" transform="translate(83.69 0) scale(0.02100 -0.02100)"/><text x="107.60">9</text></g>
<line x1="196.55" y1="2027.90" x2="407.80" y2="2027.90" stroke="#231F20" stroke-width="3"/>
<ellipse cx="154.00" cy="2030.20" rx="43.55" ry="46.45" fill="#ECECEC" stroke="#0000FF" stroke-width="3.2"/>
<g transform="translate(151.70 2021.40) scale(0.921 1)" font-size="43.0" font-weight="normal" fill="#231F20"><path d="M763 0H583V1098Q518 1038 412.5 979T223 890V1057Q374 1124 487 1221T647 1409H763Z" transform="translate(-23.91 0) scale(0.02100 -0.02100)"/><text x="0.00">3</text></g>
<rect x="129.67" y="2023.60" width="44.05" height="2.0" fill="#231F20"/>
<g transform="translate(151.70 2059.90) scale(0.921 1)" font-size="43.0" font-weight="normal" fill="#231F20"><text x="-23.91">32</text></g>
<g transform="translate(428.30 2039.80) scale(0.921 1)" font-size="43.0" font-weight="normal" fill="#231F20"><text x="0.00">.40625</text></g>
<g transform="translate(687.70 2039.80) scale(0.921 1)" font-size="43.0" font-weight="normal" fill="#231F20"><path d="M763 0H583V1098Q518 1038 412.5 979T223 890V1057Q374 1124 487 1221T647 1409H763Z" transform="translate(0.00 0) scale(0.02100 -0.02100)"/><text x="23.91">0.3</text><path d="M763 0H583V1098Q518 1038 412.5 979T223 890V1057Q374 1124 487 1221T647 1409H763Z" transform="translate(83.69 0) scale(0.02100 -0.02100)"/><text x="107.60">88</text></g>
<line x1="326.35" y1="2094.00" x2="407.80" y2="2094.00" stroke="#231F20" stroke-width="3"/>
<ellipse cx="283.80" cy="2096.90" rx="43.55" ry="46.45" fill="#AB68C6" stroke="#EC2F1E" stroke-width="3.2"/>
<g transform="translate(282.60 2091.00) scale(0.921 1)" font-size="43.0" font-weight="normal" fill="#FFFFFF"><text x="-23.91">27</text></g>
<rect x="260.57" y="2093.20" width="44.05" height="2.0" fill="#FFFFFF"/>
<g transform="translate(282.60 2129.30) scale(0.921 1)" font-size="43.0" font-weight="normal" fill="#FFFFFF"><text x="-23.91">64</text></g>
<g transform="translate(428.30 2109.42) scale(0.921 1)" font-size="43.0" font-weight="bold" fill="#231F20"><text x="0.00">.42</text><path d="M806 0H525V1013Q371 876 162 810V1054Q272 1088 401 1184T578 1409H806Z" transform="translate(59.78 0) scale(0.02100 -0.02100)"/><text x="83.69">875</text></g>
<g transform="translate(687.70 2109.42) scale(0.921 1)" font-size="43.0" font-weight="bold" fill="#231F20"><path d="M806 0H525V1013Q371 876 162 810V1054Q272 1088 401 1184T578 1409H806Z" transform="translate(0.00 0) scale(0.02100 -0.02100)"/><text x="23.91">0.7</text><path d="M806 0H525V1013Q371 876 162 810V1054Q272 1088 401 1184T578 1409H806Z" transform="translate(83.69 0) scale(0.02100 -0.02100)"/><text x="107.60">57</text></g>
<line x1="196.55" y1="2165.70" x2="407.80" y2="2165.70" stroke="#231F20" stroke-width="3"/>
<ellipse cx="154.00" cy="2168.00" rx="43.55" ry="46.45" fill="#ECECEC" stroke="#0000FF" stroke-width="3.2"/>
<g transform="translate(151.70 2159.20) scale(0.921 1)" font-size="43.0" font-weight="normal" fill="#231F20"><text x="-11.96">7</text></g>
<rect x="140.69" y="2161.40" width="22.03" height="2.0" fill="#231F20"/>
<g transform="translate(151.70 2197.70) scale(0.921 1)" font-size="43.0" font-weight="normal" fill="#231F20"><path d="M763 0H583V1098Q518 1038 412.5 979T223 890V1057Q374 1124 487 1221T647 1409H763Z" transform="translate(-23.91 0) scale(0.02100 -0.02100)"/><text x="0.00">6</text></g>
<g transform="translate(428.30 2179.04) scale(0.921 1)" font-size="43.0" font-weight="normal" fill="#231F20"><text x="0.00">.4375</text></g>
<g transform="translate(687.70 2179.04) scale(0.921 1)" font-size="43.0" font-weight="normal" fill="#231F20"><path d="M763 0H583V1098Q518 1038 412.5 979T223 890V1057Q374 1124 487 1221T647 1409H763Z" transform="translate(0.00 0) scale(0.02100 -0.02100)"/><path d="M763 0H583V1098Q518 1038 412.5 979T223 890V1057Q374 1124 487 1221T647 1409H763Z" transform="translate(20.72 0) scale(0.02100 -0.02100)"/><text x="44.64">.</text><path d="M763 0H583V1098Q518 1038 412.5 979T223 890V1057Q374 1124 487 1221T647 1409H763Z" transform="translate(56.58 0) scale(0.02100 -0.02100)"/><path d="M763 0H583V1098Q518 1038 412.5 979T223 890V1057Q374 1124 487 1221T647 1409H763Z" transform="translate(77.31 0) scale(0.02100 -0.02100)"/><text x="101.22">25</text></g>
<line x1="326.35" y1="2231.05" x2="407.80" y2="2231.05" stroke="#231F20" stroke-width="3"/>
<ellipse cx="283.80" cy="2233.95" rx="43.55" ry="46.45" fill="#AB68C6" stroke="#EC2F1E" stroke-width="3.2"/>
<g transform="translate(282.60 2228.05) scale(0.921 1)" font-size="43.0" font-weight="normal" fill="#FFFFFF"><text x="-23.91">29</text></g>
<rect x="260.57" y="2230.25" width="44.05" height="2.0" fill="#FFFFFF"/>
<g transform="translate(282.60 2266.35) scale(0.921 1)" font-size="43.0" font-weight="normal" fill="#FFFFFF"><text x="-23.91">64</text></g>
<g transform="translate(428.30 2248.66) scale(0.921 1)" font-size="43.0" font-weight="bold" fill="#231F20"><text x="0.00">.453</text><path d="M806 0H525V1013Q371 876 162 810V1054Q272 1088 401 1184T578 1409H806Z" transform="translate(83.69 0) scale(0.02100 -0.02100)"/><text x="107.60">25</text></g>
<g transform="translate(687.70 2248.66) scale(0.921 1)" font-size="43.0" font-weight="bold" fill="#231F20"><path d="M806 0H525V1013Q371 876 162 810V1054Q272 1088 401 1184T578 1409H806Z" transform="translate(0.00 0) scale(0.02100 -0.02100)"/><path d="M806 0H525V1013Q371 876 162 810V1054Q272 1088 401 1184T578 1409H806Z" transform="translate(21.54 0) scale(0.02100 -0.02100)"/><text x="45.46">.5094</text></g>
<line x1="196.55" y1="2302.75" x2="407.80" y2="2302.75" stroke="#231F20" stroke-width="3"/>
<ellipse cx="154.00" cy="2305.05" rx="43.55" ry="46.45" fill="#ECECEC" stroke="#0000FF" stroke-width="3.2"/>
<g transform="translate(151.70 2296.25) scale(0.921 1)" font-size="43.0" font-weight="normal" fill="#231F20"><path d="M763 0H583V1098Q518 1038 412.5 979T223 890V1057Q374 1124 487 1221T647 1409H763Z" transform="translate(-23.91 0) scale(0.02100 -0.02100)"/><text x="0.00">5</text></g>
<rect x="129.67" y="2297.85" width="44.05" height="3.2" fill="#0000FF"/>
<g transform="translate(151.70 2334.75) scale(0.921 1)" font-size="43.0" font-weight="normal" fill="#231F20"><text x="-23.91">32</text></g>
<g transform="translate(428.30 2318.28) scale(0.921 1)" font-size="43.0" font-weight="normal" fill="#231F20"><text x="0.00">.46875</text></g>
<g transform="translate(687.70 2318.28) scale(0.921 1)" font-size="43.0" font-weight="normal" fill="#231F20"><path d="M763 0H583V1098Q518 1038 412.5 979T223 890V1057Q374 1124 487 1221T647 1409H763Z" transform="translate(0.00 0) scale(0.02100 -0.02100)"/><path d="M763 0H583V1098Q518 1038 412.5 979T223 890V1057Q374 1124 487 1221T647 1409H763Z" transform="translate(20.72 0) scale(0.02100 -0.02100)"/><text x="44.64">.9063</text></g>
<line x1="326.35" y1="2373.80" x2="407.80" y2="2373.80" stroke="#231F20" stroke-width="3"/>
<ellipse cx="283.80" cy="2376.70" rx="43.55" ry="46.45" fill="#AB68C6" stroke="#EC2F1E" stroke-width="3.2"/>
<g transform="translate(282.60 2370.80) scale(0.921 1)" font-size="43.0" font-weight="normal" fill="#FFFFFF"><text x="-23.91">3</text><path d="M763 0H583V1098Q518 1038 412.5 979T223 890V1057Q374 1124 487 1221T647 1409H763Z" transform="translate(0.00 0) scale(0.02100 -0.02100)"/></g>
<rect x="260.57" y="2373.00" width="44.05" height="2.0" fill="#FFFFFF"/>
<g transform="translate(282.60 2409.10) scale(0.921 1)" font-size="43.0" font-weight="normal" fill="#FFFFFF"><text x="-23.91">64</text></g>
<g transform="translate(428.30 2387.90) scale(0.921 1)" font-size="43.0" font-weight="bold" fill="#231F20"><text x="0.00">.484375</text></g>
<g transform="translate(687.70 2387.90) scale(0.921 1)" font-size="43.0" font-weight="bold" fill="#231F20"><path d="M806 0H525V1013Q371 876 162 810V1054Q272 1088 401 1184T578 1409H806Z" transform="translate(0.00 0) scale(0.02100 -0.02100)"/><text x="23.91">2.3032</text></g>
<line x1="196.55" y1="2445.75" x2="407.80" y2="2445.75" stroke="#231F20" stroke-width="3"/>
<ellipse cx="154.00" cy="2448.05" rx="43.55" ry="46.45" fill="#ECECEC" stroke="#0000FF" stroke-width="3.2"/>
<g transform="translate(151.70 2439.25) scale(0.921 1)" font-size="43.0" font-weight="normal" fill="#231F20"><path d="M763 0H583V1098Q518 1038 412.5 979T223 890V1057Q374 1124 487 1221T647 1409H763Z" transform="translate(-11.96 0) scale(0.02100 -0.02100)"/></g>
<rect x="140.69" y="2441.45" width="22.03" height="2.0" fill="#231F20"/>
<g transform="translate(151.70 2477.75) scale(0.921 1)" font-size="43.0" font-weight="normal" fill="#231F20"><text x="-11.96">2</text></g>
<g transform="translate(428.30 2457.52) scale(0.921 1)" font-size="43.0" font-weight="normal" fill="#231F20"><text x="0.00">.500</text></g>
<g transform="translate(687.70 2457.52) scale(0.921 1)" font-size="43.0" font-weight="normal" fill="#231F20"><path d="M763 0H583V1098Q518 1038 412.5 979T223 890V1057Q374 1124 487 1221T647 1409H763Z" transform="translate(0.00 0) scale(0.02100 -0.02100)"/><text x="23.91">2.700</text><path d="M763 0H583V1098Q518 1038 412.5 979T223 890V1057Q374 1124 487 1221T647 1409H763Z" transform="translate(131.52 0) scale(0.02100 -0.02100)"/></g>
<line x1="1244.65" y1="289.80" x2="1326.00" y2="289.80" stroke="#231F20" stroke-width="3"/>
<ellipse cx="1202.10" cy="292.60" rx="43.55" ry="46.45" fill="#000080" stroke="#0CE0E0" stroke-width="3.2"/>
<g transform="translate(1201.60 286.90) scale(0.921 1)" font-size="43.0" font-weight="normal" fill="#FFFFFF"><text x="-23.91">33</text></g>
<rect x="1179.57" y="289.10" width="44.05" height="2.0" fill="#FFFFFF"/>
<g transform="translate(1201.60 325.10) scale(0.921 1)" font-size="43.0" font-weight="normal" fill="#FFFFFF"><text x="-23.91">64</text></g>
<g transform="translate(1346.60 307.90) scale(0.921 1)" font-size="43.0" font-weight="bold" fill="#231F20"><text x="0.00">.5</text><path d="M806 0H525V1013Q371 876 162 810V1054Q272 1088 401 1184T578 1409H806Z" transform="translate(35.86 0) scale(0.02100 -0.02100)"/><text x="59.78">5625</text></g>
<g transform="translate(1605.50 307.90) scale(0.921 1)" font-size="43.0" font-weight="bold" fill="#231F20"><path d="M806 0H525V1013Q371 876 162 810V1054Q272 1088 401 1184T578 1409H806Z" transform="translate(0.00 0) scale(0.02100 -0.02100)"/><text x="23.91">3.096</text></g>
<line x1="1114.90" y1="361.43" x2="1326.00" y2="361.43" stroke="#231F20" stroke-width="3"/>
<ellipse cx="1072.35" cy="363.53" rx="43.55" ry="46.45" fill="#00E680" stroke="#12309A" stroke-width="3.2"/>
<g transform="translate(1070.05 358.13) scale(0.921 1)" font-size="43.0" font-weight="normal" fill="#231F20"><path d="M763 0H583V1098Q518 1038 412.5 979T223 890V1057Q374 1124 487 1221T647 1409H763Z" transform="translate(-23.91 0) scale(0.02100 -0.02100)"/><text x="0.00">7</text></g>
<rect x="1048.02" y="360.33" width="44.05" height="2.0" fill="#231F20"/>
<g transform="translate(1070.05 396.63) scale(0.921 1)" font-size="43.0" font-weight="normal" fill="#231F20"><text x="-23.91">32</text></g>
<g transform="translate(1346.60 377.52) scale(0.921 1)" font-size="43.0" font-weight="normal" fill="#231F20"><text x="0.00">.53</text><path d="M763 0H583V1098Q518 1038 412.5 979T223 890V1057Q374 1124 487 1221T647 1409H763Z" transform="translate(59.78 0) scale(0.02100 -0.02100)"/><text x="83.69">25</text></g>
<g transform="translate(1605.50 377.52) scale(0.921 1)" font-size="43.0" font-weight="normal" fill="#231F20"><path d="M763 0H583V1098Q518 1038 412.5 979T223 890V1057Q374 1124 487 1221T647 1409H763Z" transform="translate(0.00 0) scale(0.02100 -0.02100)"/><text x="23.91">3.493</text></g>
<line x1="1244.65" y1="430.20" x2="1326.00" y2="430.20" stroke="#231F20" stroke-width="3"/>
<ellipse cx="1202.10" cy="433.00" rx="43.55" ry="46.45" fill="#000080" stroke="#0CE0E0" stroke-width="3.2"/>
<g transform="translate(1201.60 427.30) scale(0.921 1)" font-size="43.0" font-weight="normal" fill="#FFFFFF"><text x="-23.91">35</text></g>
<rect x="1179.57" y="429.50" width="44.05" height="2.0" fill="#FFFFFF"/>
<g transform="translate(1201.60 465.50) scale(0.921 1)" font-size="43.0" font-weight="normal" fill="#FFFFFF"><text x="-23.91">64</text></g>
<g transform="translate(1346.60 447.15) scale(0.921 1)" font-size="43.0" font-weight="bold" fill="#231F20"><text x="0.00">.546875</text></g>
<g transform="translate(1605.50 447.15) scale(0.921 1)" font-size="43.0" font-weight="bold" fill="#231F20"><path d="M806 0H525V1013Q371 876 162 810V1054Q272 1088 401 1184T578 1409H806Z" transform="translate(0.00 0) scale(0.02100 -0.02100)"/><text x="23.91">3.890</text></g>
<line x1="1114.90" y1="502.00" x2="1326.00" y2="502.00" stroke="#231F20" stroke-width="3"/>
<ellipse cx="1072.35" cy="504.10" rx="43.55" ry="46.45" fill="#00E680" stroke="#12309A" stroke-width="3.2"/>
<g transform="translate(1070.05 498.70) scale(0.921 1)" font-size="43.0" font-weight="normal" fill="#231F20"><text x="-11.96">9</text></g>
<rect x="1059.04" y="500.90" width="22.03" height="2.0" fill="#231F20"/>
<g transform="translate(1070.05 537.20) scale(0.921 1)" font-size="43.0" font-weight="normal" fill="#231F20"><path d="M763 0H583V1098Q518 1038 412.5 979T223 890V1057Q374 1124 487 1221T647 1409H763Z" transform="translate(-23.91 0) scale(0.02100 -0.02100)"/><text x="0.00">6</text></g>
<g transform="translate(1346.60 516.77) scale(0.921 1)" font-size="43.0" font-weight="normal" fill="#231F20"><text x="0.00">.5625</text></g>
<g transform="translate(1605.50 516.77) scale(0.921 1)" font-size="43.0" font-weight="normal" fill="#231F20"><path d="M763 0H583V1098Q518 1038 412.5 979T223 890V1057Q374 1124 487 1221T647 1409H763Z" transform="translate(0.00 0) scale(0.02100 -0.02100)"/><text x="23.91">4.287</text></g>
<line x1="1244.65" y1="571.30" x2="1326.00" y2="571.30" stroke="#231F20" stroke-width="3"/>
<ellipse cx="1202.10" cy="574.10" rx="43.55" ry="46.45" fill="#000080" stroke="#0CE0E0" stroke-width="3.2"/>
<g transform="translate(1201.60 568.40) scale(0.921 1)" font-size="43.0" font-weight="normal" fill="#FFFFFF"><text x="-23.91">37</text></g>
<rect x="1179.57" y="570.60" width="44.05" height="2.0" fill="#FFFFFF"/>
<g transform="translate(1201.60 606.60) scale(0.921 1)" font-size="43.0" font-weight="normal" fill="#FFFFFF"><text x="-23.91">64</text></g>
<g transform="translate(1346.60 586.40) scale(0.921 1)" font-size="43.0" font-weight="bold" fill="#231F20"><text x="0.00">.578</text><path d="M806 0H525V1013Q371 876 162 810V1054Q272 1088 401 1184T578 1409H806Z" transform="translate(83.69 0) scale(0.02100 -0.02100)"/><text x="107.60">25</text></g>
<g transform="translate(1605.50 586.40) scale(0.921 1)" font-size="43.0" font-weight="bold" fill="#231F20"><path d="M806 0H525V1013Q371 876 162 810V1054Q272 1088 401 1184T578 1409H806Z" transform="translate(0.00 0) scale(0.02100 -0.02100)"/><text x="23.91">4.684</text></g>
<line x1="1114.90" y1="643.00" x2="1326.00" y2="643.00" stroke="#231F20" stroke-width="3"/>
<ellipse cx="1072.35" cy="645.10" rx="43.55" ry="46.45" fill="#00E680" stroke="#12309A" stroke-width="3.2"/>
<g transform="translate(1070.05 639.70) scale(0.921 1)" font-size="43.0" font-weight="normal" fill="#231F20"><path d="M763 0H583V1098Q518 1038 412.5 979T223 890V1057Q374 1124 487 1221T647 1409H763Z" transform="translate(-23.91 0) scale(0.02100 -0.02100)"/><text x="0.00">9</text></g>
<rect x="1048.02" y="641.90" width="44.05" height="2.0" fill="#231F20"/>
<g transform="translate(1070.05 678.20) scale(0.921 1)" font-size="43.0" font-weight="normal" fill="#231F20"><text x="-23.91">32</text></g>
<g transform="translate(1346.60 656.02) scale(0.921 1)" font-size="43.0" font-weight="normal" fill="#231F20"><text x="0.00">.59375</text></g>
<g transform="translate(1605.50 656.02) scale(0.921 1)" font-size="43.0" font-weight="normal" fill="#231F20"><path d="M763 0H583V1098Q518 1038 412.5 979T223 890V1057Q374 1124 487 1221T647 1409H763Z" transform="translate(0.00 0) scale(0.02100 -0.02100)"/><text x="23.91">5.08</text><path d="M763 0H583V1098Q518 1038 412.5 979T223 890V1057Q374 1124 487 1221T647 1409H763Z" transform="translate(107.60 0) scale(0.02100 -0.02100)"/></g>
<line x1="1244.65" y1="713.25" x2="1326.00" y2="713.25" stroke="#231F20" stroke-width="3"/>
<ellipse cx="1202.10" cy="716.05" rx="43.55" ry="46.45" fill="#000080" stroke="#0CE0E0" stroke-width="3.2"/>
<g transform="translate(1201.60 710.35) scale(0.921 1)" font-size="43.0" font-weight="normal" fill="#FFFFFF"><text x="-23.91">39</text></g>
<rect x="1179.57" y="712.55" width="44.05" height="2.0" fill="#FFFFFF"/>
<g transform="translate(1201.60 748.55) scale(0.921 1)" font-size="43.0" font-weight="normal" fill="#FFFFFF"><text x="-23.91">64</text></g>
<g transform="translate(1346.60 725.65) scale(0.921 1)" font-size="43.0" font-weight="bold" fill="#231F20"><text x="0.00">.609375</text></g>
<g transform="translate(1605.50 725.65) scale(0.921 1)" font-size="43.0" font-weight="bold" fill="#231F20"><path d="M806 0H525V1013Q371 876 162 810V1054Q272 1088 401 1184T578 1409H806Z" transform="translate(0.00 0) scale(0.02100 -0.02100)"/><text x="23.91">5.478</text></g>
<line x1="1114.90" y1="784.62" x2="1326.00" y2="784.62" stroke="#231F20" stroke-width="3"/>
<ellipse cx="1072.35" cy="786.73" rx="43.55" ry="46.45" fill="#00E680" stroke="#12309A" stroke-width="3.2"/>
<g transform="translate(1070.05 781.33) scale(0.921 1)" font-size="43.0" font-weight="normal" fill="#231F20"><text x="-11.96">5</text></g>
<rect x="1059.04" y="783.53" width="22.03" height="2.0" fill="#231F20"/>
<g transform="translate(1070.05 819.83) scale(0.921 1)" font-size="43.0" font-weight="normal" fill="#231F20"><text x="-11.96">8</text></g>
<g transform="translate(1346.60 795.27) scale(0.921 1)" font-size="43.0" font-weight="normal" fill="#231F20"><text x="0.00">.625</text></g>
<g transform="translate(1605.50 795.27) scale(0.921 1)" font-size="43.0" font-weight="normal" fill="#231F20"><path d="M763 0H583V1098Q518 1038 412.5 979T223 890V1057Q374 1124 487 1221T647 1409H763Z" transform="translate(0.00 0) scale(0.02100 -0.02100)"/><text x="23.91">5.875</text></g>
<line x1="1244.65" y1="851.20" x2="1326.00" y2="851.20" stroke="#231F20" stroke-width="3"/>
<ellipse cx="1202.10" cy="854.00" rx="43.55" ry="46.45" fill="#000080" stroke="#0CE0E0" stroke-width="3.2"/>
<g transform="translate(1201.60 848.30) scale(0.921 1)" font-size="43.0" font-weight="normal" fill="#FFFFFF"><text x="-23.91">4</text><path d="M763 0H583V1098Q518 1038 412.5 979T223 890V1057Q374 1124 487 1221T647 1409H763Z" transform="translate(0.00 0) scale(0.02100 -0.02100)"/></g>
<rect x="1179.57" y="850.50" width="44.05" height="2.0" fill="#FFFFFF"/>
<g transform="translate(1201.60 886.50) scale(0.921 1)" font-size="43.0" font-weight="normal" fill="#FFFFFF"><text x="-23.91">64</text></g>
<g transform="translate(1346.60 864.90) scale(0.921 1)" font-size="43.0" font-weight="bold" fill="#231F20"><text x="0.00">.640625</text></g>
<g transform="translate(1605.50 864.90) scale(0.921 1)" font-size="43.0" font-weight="bold" fill="#231F20"><path d="M806 0H525V1013Q371 876 162 810V1054Q272 1088 401 1184T578 1409H806Z" transform="translate(0.00 0) scale(0.02100 -0.02100)"/><text x="23.91">6.27</text><path d="M806 0H525V1013Q371 876 162 810V1054Q272 1088 401 1184T578 1409H806Z" transform="translate(107.60 0) scale(0.02100 -0.02100)"/></g>
<line x1="1114.90" y1="922.90" x2="1326.00" y2="922.90" stroke="#231F20" stroke-width="3"/>
<ellipse cx="1072.35" cy="925.00" rx="43.55" ry="46.45" fill="#00E680" stroke="#12309A" stroke-width="3.2"/>
<g transform="translate(1070.05 919.60) scale(0.921 1)" font-size="43.0" font-weight="normal" fill="#231F20"><text x="-23.91">2</text><path d="M763 0H583V1098Q518 1038 412.5 979T223 890V1057Q374 1124 487 1221T647 1409H763Z" transform="translate(0.00 0) scale(0.02100 -0.02100)"/></g>
<rect x="1048.02" y="921.80" width="44.05" height="2.0" fill="#231F20"/>
<g transform="translate(1070.05 958.10) scale(0.921 1)" font-size="43.0" font-weight="normal" fill="#231F20"><text x="-23.91">32</text></g>
<g transform="translate(1346.60 934.52) scale(0.921 1)" font-size="43.0" font-weight="normal" fill="#231F20"><text x="0.00">.65625</text></g>
<g transform="translate(1605.50 934.52) scale(0.921 1)" font-size="43.0" font-weight="normal" fill="#231F20"><path d="M763 0H583V1098Q518 1038 412.5 979T223 890V1057Q374 1124 487 1221T647 1409H763Z" transform="translate(0.00 0) scale(0.02100 -0.02100)"/><text x="23.91">6.668</text></g>
<line x1="1244.65" y1="992.30" x2="1326.00" y2="992.30" stroke="#231F20" stroke-width="3"/>
<ellipse cx="1202.10" cy="995.10" rx="43.55" ry="46.45" fill="#000080" stroke="#0CE0E0" stroke-width="3.2"/>
<g transform="translate(1201.60 989.40) scale(0.921 1)" font-size="43.0" font-weight="normal" fill="#FFFFFF"><text x="-23.91">43</text></g>
<rect x="1179.57" y="991.60" width="44.05" height="2.0" fill="#FFFFFF"/>
<g transform="translate(1201.60 1027.60) scale(0.921 1)" font-size="43.0" font-weight="normal" fill="#FFFFFF"><text x="-23.91">64</text></g>
<g transform="translate(1346.60 1004.15) scale(0.921 1)" font-size="43.0" font-weight="bold" fill="#231F20"><text x="0.00">.67</text><path d="M806 0H525V1013Q371 876 162 810V1054Q272 1088 401 1184T578 1409H806Z" transform="translate(59.78 0) scale(0.02100 -0.02100)"/><text x="83.69">875</text></g>
<g transform="translate(1605.50 1004.15) scale(0.921 1)" font-size="43.0" font-weight="bold" fill="#231F20"><path d="M806 0H525V1013Q371 876 162 810V1054Q272 1088 401 1184T578 1409H806Z" transform="translate(0.00 0) scale(0.02100 -0.02100)"/><text x="23.91">7.065</text></g>
<line x1="1114.90" y1="1064.00" x2="1326.00" y2="1064.00" stroke="#231F20" stroke-width="3"/>
<ellipse cx="1072.35" cy="1066.10" rx="43.55" ry="46.45" fill="#00E680" stroke="#12309A" stroke-width="3.2"/>
<g transform="translate(1070.05 1060.70) scale(0.921 1)" font-size="43.0" font-weight="normal" fill="#231F20"><path d="M763 0H583V1098Q518 1038 412.5 979T223 890V1057Q374 1124 487 1221T647 1409H763Z" transform="translate(-22.32 0) scale(0.02100 -0.02100)"/><path d="M763 0H583V1098Q518 1038 412.5 979T223 890V1057Q374 1124 487 1221T647 1409H763Z" transform="translate(-1.60 0) scale(0.02100 -0.02100)"/></g>
<rect x="1049.49" y="1062.90" width="41.11" height="2.0" fill="#231F20"/>
<g transform="translate(1070.05 1099.20) scale(0.921 1)" font-size="43.0" font-weight="normal" fill="#231F20"><path d="M763 0H583V1098Q518 1038 412.5 979T223 890V1057Q374 1124 487 1221T647 1409H763Z" transform="translate(-23.91 0) scale(0.02100 -0.02100)"/><text x="0.00">6</text></g>
<g transform="translate(1346.60 1073.78) scale(0.921 1)" font-size="43.0" font-weight="normal" fill="#231F20"><text x="0.00">.6875</text></g>
<g transform="translate(1605.50 1073.78) scale(0.921 1)" font-size="43.0" font-weight="normal" fill="#231F20"><path d="M763 0H583V1098Q518 1038 412.5 979T223 890V1057Q374 1124 487 1221T647 1409H763Z" transform="translate(0.00 0) scale(0.02100 -0.02100)"/><text x="23.91">7.462</text></g>
<line x1="1244.65" y1="1133.00" x2="1326.00" y2="1133.00" stroke="#231F20" stroke-width="3"/>
<ellipse cx="1202.10" cy="1135.80" rx="43.55" ry="46.45" fill="#000080" stroke="#0CE0E0" stroke-width="3.2"/>
<g transform="translate(1201.60 1130.10) scale(0.921 1)" font-size="43.0" font-weight="normal" fill="#FFFFFF"><text x="-23.91">45</text></g>
<rect x="1179.57" y="1132.30" width="44.05" height="2.0" fill="#FFFFFF"/>
<g transform="translate(1201.60 1168.30) scale(0.921 1)" font-size="43.0" font-weight="normal" fill="#FFFFFF"><text x="-23.91">64</text></g>
<g transform="translate(1346.60 1143.40) scale(0.921 1)" font-size="43.0" font-weight="bold" fill="#231F20"><text x="0.00">.703</text><path d="M806 0H525V1013Q371 876 162 810V1054Q272 1088 401 1184T578 1409H806Z" transform="translate(83.69 0) scale(0.02100 -0.02100)"/><text x="107.60">25</text></g>
<g transform="translate(1605.50 1143.40) scale(0.921 1)" font-size="43.0" font-weight="bold" fill="#231F20"><path d="M806 0H525V1013Q371 876 162 810V1054Q272 1088 401 1184T578 1409H806Z" transform="translate(0.00 0) scale(0.02100 -0.02100)"/><text x="23.91">7.859</text></g>
<line x1="1114.90" y1="1204.50" x2="1326.00" y2="1204.50" stroke="#231F20" stroke-width="3"/>
<ellipse cx="1072.35" cy="1206.60" rx="43.55" ry="46.45" fill="#00E680" stroke="#12309A" stroke-width="3.2"/>
<g transform="translate(1070.05 1198.60) scale(0.921 1)" font-size="43.0" font-weight="normal" fill="#231F20"><text x="-23.91">23</text></g>
<rect x="1048.02" y="1200.80" width="44.05" height="2.0" fill="#231F20"/>
<g transform="translate(1070.05 1237.10) scale(0.921 1)" font-size="43.0" font-weight="normal" fill="#231F20"><text x="-23.91">32</text></g>
<g transform="translate(1346.60 1213.03) scale(0.921 1)" font-size="43.0" font-weight="normal" fill="#231F20"><text x="0.00">.7</text><path d="M763 0H583V1098Q518 1038 412.5 979T223 890V1057Q374 1124 487 1221T647 1409H763Z" transform="translate(35.86 0) scale(0.02100 -0.02100)"/><text x="59.78">875</text></g>
<g transform="translate(1605.50 1213.03) scale(0.921 1)" font-size="43.0" font-weight="normal" fill="#231F20"><path d="M763 0H583V1098Q518 1038 412.5 979T223 890V1057Q374 1124 487 1221T647 1409H763Z" transform="translate(0.00 0) scale(0.02100 -0.02100)"/><text x="23.91">8.256</text></g>
<line x1="1244.65" y1="1268.80" x2="1326.00" y2="1268.80" stroke="#231F20" stroke-width="3"/>
<ellipse cx="1202.10" cy="1271.60" rx="43.55" ry="46.45" fill="#000080" stroke="#0CE0E0" stroke-width="3.2"/>
<g transform="translate(1201.60 1265.90) scale(0.921 1)" font-size="43.0" font-weight="normal" fill="#FFFFFF"><text x="-23.91">47</text></g>
<rect x="1179.57" y="1268.10" width="44.05" height="2.0" fill="#FFFFFF"/>
<g transform="translate(1201.60 1304.10) scale(0.921 1)" font-size="43.0" font-weight="normal" fill="#FFFFFF"><text x="-23.91">64</text></g>
<g transform="translate(1346.60 1282.65) scale(0.921 1)" font-size="43.0" font-weight="bold" fill="#231F20"><text x="0.00">.734375</text></g>
<g transform="translate(1605.50 1282.65) scale(0.921 1)" font-size="43.0" font-weight="bold" fill="#231F20"><path d="M806 0H525V1013Q371 876 162 810V1054Q272 1088 401 1184T578 1409H806Z" transform="translate(0.00 0) scale(0.02100 -0.02100)"/><text x="23.91">8.653</text></g>
<line x1="1114.90" y1="1340.23" x2="1326.00" y2="1340.23" stroke="#231F20" stroke-width="3"/>
<ellipse cx="1072.35" cy="1342.33" rx="43.55" ry="46.45" fill="#00E680" stroke="#12309A" stroke-width="3.2"/>
<g transform="translate(1070.05 1336.92) scale(0.921 1)" font-size="43.0" font-weight="normal" fill="#231F20"><text x="-11.96">3</text></g>
<rect x="1059.04" y="1339.12" width="22.03" height="2.0" fill="#231F20"/>
<g transform="translate(1070.05 1375.42) scale(0.921 1)" font-size="43.0" font-weight="normal" fill="#231F20"><text x="-11.96">4</text></g>
<g transform="translate(1346.60 1352.28) scale(0.921 1)" font-size="43.0" font-weight="normal" fill="#231F20"><text x="0.00">.750</text></g>
<g transform="translate(1605.50 1352.28) scale(0.921 1)" font-size="43.0" font-weight="normal" fill="#231F20"><path d="M763 0H583V1098Q518 1038 412.5 979T223 890V1057Q374 1124 487 1221T647 1409H763Z" transform="translate(0.00 0) scale(0.02100 -0.02100)"/><text x="23.91">9.050</text></g>
<line x1="1244.65" y1="1407.80" x2="1326.00" y2="1407.80" stroke="#231F20" stroke-width="3"/>
<ellipse cx="1202.10" cy="1410.60" rx="43.55" ry="46.45" fill="#000080" stroke="#0CE0E0" stroke-width="3.2"/>
<g transform="translate(1201.60 1404.90) scale(0.921 1)" font-size="43.0" font-weight="normal" fill="#FFFFFF"><text x="-23.91">49</text></g>
<rect x="1179.57" y="1407.10" width="44.05" height="2.0" fill="#FFFFFF"/>
<g transform="translate(1201.60 1443.10) scale(0.921 1)" font-size="43.0" font-weight="normal" fill="#FFFFFF"><text x="-23.91">64</text></g>
<g transform="translate(1346.60 1421.90) scale(0.921 1)" font-size="43.0" font-weight="bold" fill="#231F20"><text x="0.00">.765625</text></g>
<g transform="translate(1605.50 1421.90) scale(0.921 1)" font-size="43.0" font-weight="bold" fill="#231F20"><path d="M806 0H525V1013Q371 876 162 810V1054Q272 1088 401 1184T578 1409H806Z" transform="translate(0.00 0) scale(0.02100 -0.02100)"/><text x="23.91">9.447</text></g>
<line x1="1114.90" y1="1479.45" x2="1326.00" y2="1479.45" stroke="#231F20" stroke-width="3"/>
<ellipse cx="1072.35" cy="1481.55" rx="43.55" ry="46.45" fill="#00E680" stroke="#12309A" stroke-width="3.2"/>
<g transform="translate(1070.05 1476.15) scale(0.921 1)" font-size="43.0" font-weight="normal" fill="#231F20"><text x="-23.91">25</text></g>
<rect x="1048.02" y="1478.35" width="44.05" height="2.0" fill="#231F20"/>
<g transform="translate(1070.05 1514.65) scale(0.921 1)" font-size="43.0" font-weight="normal" fill="#231F20"><text x="-23.91">32</text></g>
<g transform="translate(1346.60 1491.53) scale(0.921 1)" font-size="43.0" font-weight="normal" fill="#231F20"><text x="0.00">.78</text><path d="M763 0H583V1098Q518 1038 412.5 979T223 890V1057Q374 1124 487 1221T647 1409H763Z" transform="translate(59.78 0) scale(0.02100 -0.02100)"/><text x="83.69">25</text></g>
<g transform="translate(1605.50 1491.53) scale(0.921 1)" font-size="43.0" font-weight="normal" fill="#231F20"><path d="M763 0H583V1098Q518 1038 412.5 979T223 890V1057Q374 1124 487 1221T647 1409H763Z" transform="translate(0.00 0) scale(0.02100 -0.02100)"/><text x="23.91">9.843</text></g>
<line x1="1244.65" y1="1547.85" x2="1326.00" y2="1547.85" stroke="#231F20" stroke-width="3"/>
<ellipse cx="1202.10" cy="1550.65" rx="43.55" ry="46.45" fill="#000080" stroke="#0CE0E0" stroke-width="3.2"/>
<g transform="translate(1201.60 1544.95) scale(0.921 1)" font-size="43.0" font-weight="normal" fill="#FFFFFF"><text x="-23.91">5</text><path d="M763 0H583V1098Q518 1038 412.5 979T223 890V1057Q374 1124 487 1221T647 1409H763Z" transform="translate(0.00 0) scale(0.02100 -0.02100)"/></g>
<rect x="1179.57" y="1547.15" width="44.05" height="2.0" fill="#FFFFFF"/>
<g transform="translate(1201.60 1583.15) scale(0.921 1)" font-size="43.0" font-weight="normal" fill="#FFFFFF"><text x="-23.91">64</text></g>
<g transform="translate(1346.60 1561.15) scale(0.921 1)" font-size="43.0" font-weight="bold" fill="#231F20"><text x="0.00">.796875</text></g>
<g transform="translate(1605.50 1561.15) scale(0.921 1)" font-size="43.0" font-weight="bold" fill="#231F20"><text x="0.00">20.240</text></g>
<line x1="1114.90" y1="1619.80" x2="1326.00" y2="1619.80" stroke="#231F20" stroke-width="3"/>
<ellipse cx="1072.35" cy="1621.90" rx="43.55" ry="46.45" fill="#00E680" stroke="#12309A" stroke-width="3.2"/>
<g transform="translate(1070.05 1616.50) scale(0.921 1)" font-size="43.0" font-weight="normal" fill="#231F20"><path d="M763 0H583V1098Q518 1038 412.5 979T223 890V1057Q374 1124 487 1221T647 1409H763Z" transform="translate(-23.91 0) scale(0.02100 -0.02100)"/><text x="0.00">3</text></g>
<rect x="1048.02" y="1618.70" width="44.05" height="2.0" fill="#231F20"/>
<g transform="translate(1070.05 1655.00) scale(0.921 1)" font-size="43.0" font-weight="normal" fill="#231F20"><path d="M763 0H583V1098Q518 1038 412.5 979T223 890V1057Q374 1124 487 1221T647 1409H763Z" transform="translate(-23.91 0) scale(0.02100 -0.02100)"/><text x="0.00">6</text></g>
<g transform="translate(1346.60 1630.78) scale(0.921 1)" font-size="43.0" font-weight="normal" fill="#231F20"><text x="0.00">.8</text><path d="M763 0H583V1098Q518 1038 412.5 979T223 890V1057Q374 1124 487 1221T647 1409H763Z" transform="translate(35.86 0) scale(0.02100 -0.02100)"/><text x="59.78">25</text></g>
<g transform="translate(1605.50 1630.78) scale(0.921 1)" font-size="43.0" font-weight="normal" fill="#231F20"><text x="0.00">20.6375</text></g>
<line x1="1244.65" y1="1684.90" x2="1326.00" y2="1684.90" stroke="#231F20" stroke-width="3"/>
<ellipse cx="1202.10" cy="1687.70" rx="43.55" ry="46.45" fill="#000080" stroke="#0CE0E0" stroke-width="3.2"/>
<g transform="translate(1201.60 1682.00) scale(0.921 1)" font-size="43.0" font-weight="normal" fill="#FFFFFF"><text x="-23.91">53</text></g>
<rect x="1179.57" y="1684.20" width="44.05" height="2.0" fill="#FFFFFF"/>
<g transform="translate(1201.60 1720.20) scale(0.921 1)" font-size="43.0" font-weight="normal" fill="#FFFFFF"><text x="-23.91">64</text></g>
<g transform="translate(1346.60 1700.40) scale(0.921 1)" font-size="43.0" font-weight="bold" fill="#231F20"><text x="0.00">.828</text><path d="M806 0H525V1013Q371 876 162 810V1054Q272 1088 401 1184T578 1409H806Z" transform="translate(83.69 0) scale(0.02100 -0.02100)"/><text x="107.60">25</text></g>
<g transform="translate(1605.50 1700.40) scale(0.921 1)" font-size="43.0" font-weight="bold" fill="#231F20"><text x="0.00">2</text><path d="M806 0H525V1013Q371 876 162 810V1054Q272 1088 401 1184T578 1409H806Z" transform="translate(23.91 0) scale(0.02100 -0.02100)"/><text x="47.83">.0345</text></g>
<line x1="1114.90" y1="1756.90" x2="1326.00" y2="1756.90" stroke="#231F20" stroke-width="3"/>
<ellipse cx="1072.35" cy="1759.00" rx="43.55" ry="46.45" fill="#00E680" stroke="#12309A" stroke-width="3.2"/>
<g transform="translate(1070.05 1753.60) scale(0.921 1)" font-size="43.0" font-weight="normal" fill="#231F20"><text x="-23.91">27</text></g>
<rect x="1048.02" y="1755.80" width="44.05" height="2.0" fill="#231F20"/>
<g transform="translate(1070.05 1792.10) scale(0.921 1)" font-size="43.0" font-weight="normal" fill="#231F20"><text x="-23.91">32</text></g>
<g transform="translate(1346.60 1770.03) scale(0.921 1)" font-size="43.0" font-weight="normal" fill="#231F20"><text x="0.00">.84375</text></g>
<g transform="translate(1605.50 1770.03) scale(0.921 1)" font-size="43.0" font-weight="normal" fill="#231F20"><text x="0.00">2</text><path d="M763 0H583V1098Q518 1038 412.5 979T223 890V1057Q374 1124 487 1221T647 1409H763Z" transform="translate(23.91 0) scale(0.02100 -0.02100)"/><text x="47.83">.43</text><path d="M763 0H583V1098Q518 1038 412.5 979T223 890V1057Q374 1124 487 1221T647 1409H763Z" transform="translate(107.60 0) scale(0.02100 -0.02100)"/></g>
<line x1="1244.65" y1="1827.00" x2="1326.00" y2="1827.00" stroke="#231F20" stroke-width="3"/>
<ellipse cx="1202.10" cy="1829.80" rx="43.55" ry="46.45" fill="#000080" stroke="#0CE0E0" stroke-width="3.2"/>
<g transform="translate(1201.60 1824.10) scale(0.921 1)" font-size="43.0" font-weight="normal" fill="#FFFFFF"><text x="-23.91">55</text></g>
<rect x="1179.57" y="1826.30" width="44.05" height="2.0" fill="#FFFFFF"/>
<g transform="translate(1201.60 1862.30) scale(0.921 1)" font-size="43.0" font-weight="normal" fill="#FFFFFF"><text x="-23.91">64</text></g>
<g transform="translate(1346.60 1839.65) scale(0.921 1)" font-size="43.0" font-weight="bold" fill="#231F20"><text x="0.00">.859375</text></g>
<g transform="translate(1605.50 1839.65) scale(0.921 1)" font-size="43.0" font-weight="bold" fill="#231F20"><text x="0.00">2</text><path d="M806 0H525V1013Q371 876 162 810V1054Q272 1088 401 1184T578 1409H806Z" transform="translate(23.91 0) scale(0.02100 -0.02100)"/><text x="47.83">.8282</text></g>
<line x1="1114.90" y1="1898.58" x2="1326.00" y2="1898.58" stroke="#231F20" stroke-width="3"/>
<ellipse cx="1072.35" cy="1900.67" rx="43.55" ry="46.45" fill="#00E680" stroke="#12309A" stroke-width="3.2"/>
<g transform="translate(1070.05 1895.27) scale(0.921 1)" font-size="43.0" font-weight="normal" fill="#231F20"><text x="-11.96">7</text></g>
<rect x="1059.04" y="1897.47" width="22.03" height="2.0" fill="#231F20"/>
<g transform="translate(1070.05 1933.77) scale(0.921 1)" font-size="43.0" font-weight="normal" fill="#231F20"><text x="-11.96">8</text></g>
<g transform="translate(1346.60 1909.28) scale(0.921 1)" font-size="43.0" font-weight="normal" fill="#231F20"><text x="0.00">.875</text></g>
<g transform="translate(1605.50 1909.28) scale(0.921 1)" font-size="43.0" font-weight="normal" fill="#231F20"><text x="0.00">22.225</text><path d="M763 0H583V1098Q518 1038 412.5 979T223 890V1057Q374 1124 487 1221T647 1409H763Z" transform="translate(131.52 0) scale(0.02100 -0.02100)"/></g>
<line x1="1244.65" y1="1964.90" x2="1326.00" y2="1964.90" stroke="#231F20" stroke-width="3"/>
<ellipse cx="1202.10" cy="1967.70" rx="43.55" ry="46.45" fill="#000080" stroke="#0CE0E0" stroke-width="3.2"/>
<g transform="translate(1201.60 1962.00) scale(0.921 1)" font-size="43.0" font-weight="normal" fill="#FFFFFF"><text x="-23.91">57</text></g>
<rect x="1179.57" y="1964.20" width="44.05" height="2.0" fill="#FFFFFF"/>
<g transform="translate(1201.60 2000.20) scale(0.921 1)" font-size="43.0" font-weight="normal" fill="#FFFFFF"><text x="-23.91">64</text></g>
<g transform="translate(1346.60 1978.90) scale(0.921 1)" font-size="43.0" font-weight="bold" fill="#231F20"><text x="0.00">.890625</text></g>
<g transform="translate(1605.50 1978.90) scale(0.921 1)" font-size="43.0" font-weight="bold" fill="#231F20"><text x="0.00">22.6220</text></g>
<line x1="1114.90" y1="2036.70" x2="1326.00" y2="2036.70" stroke="#231F20" stroke-width="3"/>
<ellipse cx="1072.35" cy="2038.80" rx="43.55" ry="46.45" fill="#00E680" stroke="#12309A" stroke-width="3.2"/>
<g transform="translate(1070.05 2033.40) scale(0.921 1)" font-size="43.0" font-weight="normal" fill="#231F20"><text x="-23.91">29</text></g>
<rect x="1048.02" y="2035.60" width="44.05" height="2.0" fill="#231F20"/>
<g transform="translate(1070.05 2071.90) scale(0.921 1)" font-size="43.0" font-weight="normal" fill="#231F20"><text x="-23.91">32</text></g>
<g transform="translate(1346.60 2048.53) scale(0.921 1)" font-size="43.0" font-weight="normal" fill="#231F20"><text x="0.00">.90625</text></g>
<g transform="translate(1605.50 2048.53) scale(0.921 1)" font-size="43.0" font-weight="normal" fill="#231F20"><text x="0.00">23.0</text><path d="M763 0H583V1098Q518 1038 412.5 979T223 890V1057Q374 1124 487 1221T647 1409H763Z" transform="translate(83.69 0) scale(0.02100 -0.02100)"/><text x="107.60">88</text></g>
<line x1="1244.65" y1="2102.70" x2="1326.00" y2="2102.70" stroke="#231F20" stroke-width="3"/>
<ellipse cx="1202.10" cy="2105.50" rx="43.55" ry="46.45" fill="#000080" stroke="#0CE0E0" stroke-width="3.2"/>
<g transform="translate(1201.60 2099.80) scale(0.921 1)" font-size="43.0" font-weight="normal" fill="#FFFFFF"><text x="-23.91">59</text></g>
<rect x="1179.57" y="2102.00" width="44.05" height="2.0" fill="#FFFFFF"/>
<g transform="translate(1201.60 2138.00) scale(0.921 1)" font-size="43.0" font-weight="normal" fill="#FFFFFF"><text x="-23.91">64</text></g>
<g transform="translate(1346.60 2118.15) scale(0.921 1)" font-size="43.0" font-weight="bold" fill="#231F20"><text x="0.00">.92</text><path d="M806 0H525V1013Q371 876 162 810V1054Q272 1088 401 1184T578 1409H806Z" transform="translate(59.78 0) scale(0.02100 -0.02100)"/><text x="83.69">875</text></g>
<g transform="translate(1605.50 2118.15) scale(0.921 1)" font-size="43.0" font-weight="bold" fill="#231F20"><text x="0.00">23.4</text><path d="M806 0H525V1013Q371 876 162 810V1054Q272 1088 401 1184T578 1409H806Z" transform="translate(83.69 0) scale(0.02100 -0.02100)"/><text x="107.60">57</text></g>
<line x1="1114.90" y1="2174.50" x2="1326.00" y2="2174.50" stroke="#231F20" stroke-width="3"/>
<ellipse cx="1072.35" cy="2176.60" rx="43.55" ry="46.45" fill="#00E680" stroke="#12309A" stroke-width="3.2"/>
<g transform="translate(1070.05 2171.20) scale(0.921 1)" font-size="43.0" font-weight="normal" fill="#231F20"><path d="M763 0H583V1098Q518 1038 412.5 979T223 890V1057Q374 1124 487 1221T647 1409H763Z" transform="translate(-23.91 0) scale(0.02100 -0.02100)"/><text x="0.00">5</text></g>
<rect x="1048.02" y="2173.40" width="44.05" height="2.0" fill="#231F20"/>
<g transform="translate(1070.05 2209.70) scale(0.921 1)" font-size="43.0" font-weight="normal" fill="#231F20"><path d="M763 0H583V1098Q518 1038 412.5 979T223 890V1057Q374 1124 487 1221T647 1409H763Z" transform="translate(-23.91 0) scale(0.02100 -0.02100)"/><text x="0.00">6</text></g>
<g transform="translate(1346.60 2187.78) scale(0.921 1)" font-size="43.0" font-weight="normal" fill="#231F20"><text x="0.00">.9375</text></g>
<g transform="translate(1605.50 2187.78) scale(0.921 1)" font-size="43.0" font-weight="normal" fill="#231F20"><text x="0.00">23.8</text><path d="M763 0H583V1098Q518 1038 412.5 979T223 890V1057Q374 1124 487 1221T647 1409H763Z" transform="translate(83.69 0) scale(0.02100 -0.02100)"/><text x="107.60">26</text></g>
<line x1="1244.65" y1="2239.75" x2="1326.00" y2="2239.75" stroke="#231F20" stroke-width="3"/>
<ellipse cx="1202.10" cy="2242.55" rx="43.55" ry="46.45" fill="#000080" stroke="#0CE0E0" stroke-width="3.2"/>
<g transform="translate(1201.60 2236.85) scale(0.921 1)" font-size="43.0" font-weight="normal" fill="#FFFFFF"><text x="-23.91">6</text><path d="M763 0H583V1098Q518 1038 412.5 979T223 890V1057Q374 1124 487 1221T647 1409H763Z" transform="translate(0.00 0) scale(0.02100 -0.02100)"/></g>
<rect x="1179.57" y="2239.05" width="44.05" height="2.0" fill="#FFFFFF"/>
<g transform="translate(1201.60 2275.05) scale(0.921 1)" font-size="43.0" font-weight="normal" fill="#FFFFFF"><text x="-23.91">64</text></g>
<g transform="translate(1346.60 2257.40) scale(0.921 1)" font-size="43.0" font-weight="bold" fill="#231F20"><text x="0.00">.953</text><path d="M806 0H525V1013Q371 876 162 810V1054Q272 1088 401 1184T578 1409H806Z" transform="translate(83.69 0) scale(0.02100 -0.02100)"/><text x="107.60">25</text></g>
<g transform="translate(1605.50 2257.40) scale(0.921 1)" font-size="43.0" font-weight="bold" fill="#231F20"><text x="0.00">24.2095</text></g>
<line x1="1114.90" y1="2311.55" x2="1326.00" y2="2311.55" stroke="#231F20" stroke-width="3"/>
<ellipse cx="1072.35" cy="2313.65" rx="43.55" ry="46.45" fill="#00E680" stroke="#12309A" stroke-width="3.2"/>
<g transform="translate(1070.05 2308.25) scale(0.921 1)" font-size="43.0" font-weight="normal" fill="#231F20"><text x="-23.91">3</text><path d="M763 0H583V1098Q518 1038 412.5 979T223 890V1057Q374 1124 487 1221T647 1409H763Z" transform="translate(0.00 0) scale(0.02100 -0.02100)"/></g>
<rect x="1048.02" y="2310.45" width="44.05" height="2.0" fill="#231F20"/>
<g transform="translate(1070.05 2346.75) scale(0.921 1)" font-size="43.0" font-weight="normal" fill="#231F20"><text x="-23.91">32</text></g>
<g transform="translate(1346.60 2327.03) scale(0.921 1)" font-size="43.0" font-weight="normal" fill="#231F20"><text x="0.00">.96875</text></g>
<g transform="translate(1605.50 2327.03) scale(0.921 1)" font-size="43.0" font-weight="normal" fill="#231F20"><text x="0.00">24.6063</text></g>
<line x1="1244.65" y1="2382.50" x2="1326.00" y2="2382.50" stroke="#231F20" stroke-width="3"/>
<ellipse cx="1202.10" cy="2385.30" rx="43.55" ry="46.45" fill="#000080" stroke="#0CE0E0" stroke-width="3.2"/>
<g transform="translate(1201.60 2379.60) scale(0.921 1)" font-size="43.0" font-weight="normal" fill="#FFFFFF"><text x="-23.91">63</text></g>
<rect x="1179.57" y="2381.80" width="44.05" height="2.0" fill="#FFFFFF"/>
<g transform="translate(1201.60 2417.80) scale(0.921 1)" font-size="43.0" font-weight="normal" fill="#FFFFFF"><text x="-23.91">64</text></g>
<g transform="translate(1346.60 2396.65) scale(0.921 1)" font-size="43.0" font-weight="bold" fill="#231F20"><text x="0.00">.984375</text></g>
<g transform="translate(1605.50 2396.65) scale(0.921 1)" font-size="43.0" font-weight="bold" fill="#231F20"><text x="0.00">25.0032</text></g>
<line x1="1114.90" y1="2454.55" x2="1326.00" y2="2454.55" stroke="#231F20" stroke-width="3"/>
<ellipse cx="1072.35" cy="2456.65" rx="43.55" ry="46.45" fill="#00E680" stroke="#12309A" stroke-width="3.2"/>
<g transform="translate(1069.55 2477.85) scale(0.93 1)" font-size="79.6" font-weight="normal" fill="#231F20"><path d="M763 0H583V1098Q518 1038 412.5 979T223 890V1057Q374 1124 487 1221T647 1409H763Z" transform="translate(-22.13 0) scale(0.03887 -0.03887)"/></g>
<g transform="translate(1346.60 2466.28) scale(0.921 1)" font-size="43.0" font-weight="normal" fill="#231F20"><path d="M763 0H583V1098Q518 1038 412.5 979T223 890V1057Q374 1124 487 1221T647 1409H763Z" transform="translate(0.00 0) scale(0.02100 -0.02100)"/><text x="23.91">.000</text></g>
<g transform="translate(1605.50 2466.28) scale(0.921 1)" font-size="43.0" font-weight="normal" fill="#231F20"><text x="0.00">25.400</text><path d="M763 0H583V1098Q518 1038 412.5 979T223 890V1057Q374 1124 487 1221T647 1409H763Z" transform="translate(131.52 0) scale(0.02100 -0.02100)"/></g>
</svg></body></html>
